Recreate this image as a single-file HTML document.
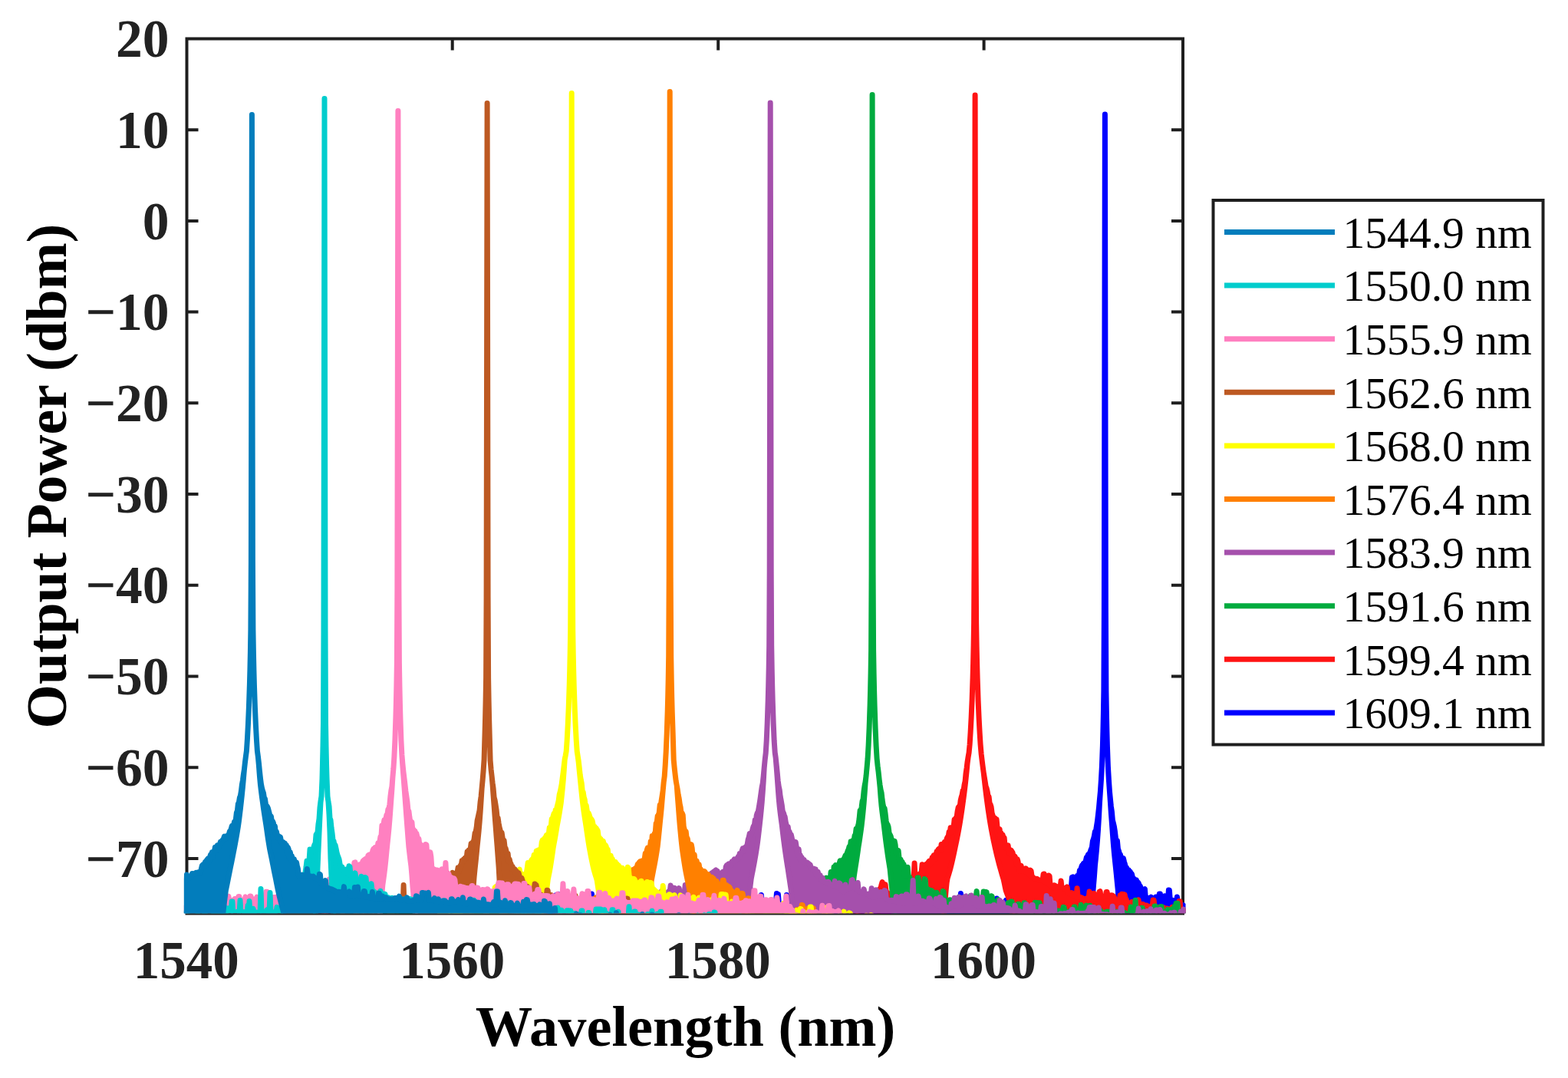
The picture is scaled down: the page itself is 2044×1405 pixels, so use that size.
<!DOCTYPE html>
<html><head><meta charset="utf-8"><title>Output Power vs Wavelength</title>
<style>html,body{margin:0;padding:0;background:#fff;overflow:hidden;} svg{display:block;}</style></head>
<body><svg width="2044" height="1405" viewBox="0 0 2044 1405">
<rect x="0" y="0" width="2044" height="1405" fill="#fff"/>
<defs><clipPath id="ax"><rect x="239.8" y="0" width="1305.7" height="1190.2"/></clipPath></defs>

<g stroke="#1e1e1e" stroke-width="4" fill="none" stroke-linecap="square">
<path d="M243.5 50.5H1542.0V1190.5H243.5Z"/>
<path stroke-linecap="butt" d="M243.5 169.2h15M1542.0 169.2h-15M243.5 287.9h15M1542.0 287.9h-15M243.5 406.6h15M1542.0 406.6h-15M243.5 525.3h15M1542.0 525.3h-15M243.5 644.1h15M1542.0 644.1h-15M243.5 762.8h15M1542.0 762.8h-15M243.5 881.5h15M1542.0 881.5h-15M243.5 1000.2h15M1542.0 1000.2h-15M243.5 1118.9h15M1542.0 1118.9h-15M589.7 50.5v15M589.7 1190.5v-15M936.2 50.5v15M936.2 1190.5v-15M1282.6 50.5v15M1282.6 1190.5v-15"/>
</g>
<g clip-path="url(#ax)" stroke-width="7" stroke-linejoin="round" stroke-linecap="round">
<path fill="#0000ff" stroke="#0000ff" d="M240.4 1202.5 649.4 1202.5 650.4 1197.4 651.4 1197.2 652.4 1202.2 653.4 1202 654.4 1201.8 655.4 1201.6 656.4 1201.4 657.4 1201.2 658.4 1201 659.4 1200 660.4 1199.8 661.4 1199.3 662.4 1199.1 663.4 1198.9 664.4 1198.7 665.4 1198.5 666.4 1192.6 667.4 1199 668.4 1198.8 669.4 1198.6 670.4 1198.4 671.4 1198.2 672.4 1198 673.4 1186.7 674.4 1198.6 675.4 1198.4 676.4 1198.2 677.4 1198 678.4 1195.2 679.4 1195.8 680.4 1195.6 681.4 1195.4 682.4 1195.2 683.4 1195 684.4 1187.4 685.4 1193.4 686.4 1193.2 687.4 1193 688.4 1192.8 689.4 1192.6 690.4 1193.2 691.4 1194.7 692.4 1194.5 693.4 1194.3 694.4 1194.1 695.4 1193.9 696.4 1189.6 697.4 1193.9 698.4 1193.7 699.4 1193.5 700.4 1193.2 701.4 1192.7 702.4 1190 703.4 1191 704.4 1190.5 705.4 1190 706.4 1189.4 707.4 1179.9 708.4 1179.4 709.4 1188.6 710.4 1188.1 711.4 1187.5 712.4 1187 713.4 1186.5 714.4 1186 715.4 1176.1 716.4 1184.1 717.4 1183.5 718.4 1183 719.4 1182.5 720.4 1182.7 721.4 1182.2 722.4 1168 723.4 1167.4 724.4 1166.9 725.4 1166.4 726.4 1165.9 727.4 1165.4 728.4 1175.3 729.4 1176.5 730.4 1176 731.4 1175.5 732.4 1175 733.4 1164.5 734.4 1174.8 735.4 1174.9 736.4 1169.5 737.4 1169.6 738.4 1176.8 739.4 1176.9 740.4 1177 741.4 1177.1 742.4 1177.2 743.4 1177.4 744.4 1177.5 745.4 1177.2 746.4 1175.3 747.4 1175.4 748.4 1175.5 749.4 1175.6 750.4 1175.7 751.4 1175.8 752.4 1174.7 753.4 1174.8 754.4 1176.6 755.4 1176.7 756.4 1176.8 757.4 1176.9 758.4 1177 759.4 1177.4 760.4 1178.8 761.4 1178.9 762.4 1179 763.4 1171.1 764.4 1178.3 765.4 1178.4 766.4 1178.5 767.4 1178.6 768.4 1178.7 769.4 1169.5 770.4 1179 771.4 1165 772.4 1178.2 773.4 1178.3 774.4 1178.4 775.4 1178.5 776.4 1178.6 777.4 1178.7 778.4 1178.8 779.4 1168.5 780.4 1168.6 781.4 1179.3 782.4 1179.4 783.4 1179.5 784.4 1174.5 785.4 1174.6 786.4 1179.1 787.4 1179.2 788.4 1179.3 789.4 1179.4 790.4 1171.2 791.4 1171.3 792.4 1182.4 793.4 1182.6 794.4 1182.7 795.4 1182.8 796.4 1179.9 797.4 1180 798.4 1182.8 799.4 1182.9 800.4 1183 801.4 1182.9 802.4 1175 803.4 1180.2 804.4 1180.2 805.4 1180.2 806.4 1182.7 807.4 1181 808.4 1181 809.4 1181 810.4 1180.9 811.4 1180.9 812.4 1180.9 813.4 1180 814.4 1182.1 815.4 1182.1 816.4 1182 817.4 1182 818.4 1182 819.4 1182 820.4 1181.9 821.4 1181.4 822.4 1181.3 823.4 1182.4 824.4 1182.4 825.4 1182.4 826.4 1182.3 827.4 1182.3 828.4 1182.3 829.4 1171.9 830.4 1179.8 831.4 1179.7 832.4 1179.7 833.4 1179.7 834.4 1181.7 835.4 1181.7 836.4 1180.6 837.4 1180.5 838.4 1180.5 839.4 1181 840.4 1179.3 841.4 1179.3 842.4 1179.3 843.4 1179.3 844.4 1179.2 845.4 1179.8 846.4 1182.2 847.4 1182.1 848.4 1182.1 849.4 1182.1 850.4 1180.7 851.4 1180.7 852.4 1181.3 853.4 1181.3 854.4 1181.3 855.4 1181.2 856.4 1181.2 857.4 1181.2 858.4 1181.2 859.4 1180.1 860.4 1180 861.4 1180.4 862.4 1180.4 863.4 1180.3 864.4 1169.6 865.4 1169.5 866.4 1179.4 867.4 1179.4 868.4 1179.4 869.4 1179.3 870.4 1173.3 871.4 1173.3 872.4 1181.5 873.4 1181.5 874.4 1181.5 875.4 1181.5 876.4 1181.4 877.4 1181.4 878.4 1181.4 879.4 1177.5 880.4 1177.5 881.4 1178.4 882.4 1178.4 883.4 1178.4 884.4 1178.3 885.4 1178.3 886.4 1176.4 887.4 1176.4 888.4 1179.7 889.4 1179.7 890.4 1179.6 891.4 1179 892.4 1179 893.4 1181.2 894.4 1181.1 895.4 1181.1 896.4 1181.1 897.4 1176 898.4 1176 899.4 1181.1 900.4 1181.1 901.4 1181 902.4 1175 903.4 1178.4 904.4 1178.4 905.4 1178.4 906.4 1178.3 907.4 1178.3 908.4 1178.3 909.4 1178.3 910.4 1171 911.4 1179.8 912.4 1179.8 913.4 1179.7 914.4 1179.7 915.4 1179.7 916.4 1179.7 917.4 1171.6 918.4 1171.5 919.4 1180.4 920.4 1180.4 921.4 1180.4 922.4 1176.5 923.4 1178.7 924.4 1178.7 925.4 1178.7 926.4 1178.7 927.4 1178.7 928.4 1179.6 929.4 1179.4 930.4 1179.4 931.4 1179.4 932.4 1179.3 933.4 1179.3 934.4 1168 935.4 1178.1 936.4 1178.1 937.4 1178.1 938.4 1178.1 939.4 1178 940.4 1178 941.4 1173.3 942.4 1170 943.4 1169.9 944.4 1169.9 945.4 1169.9 946.4 1169.9 947.4 1169.8 948.4 1167.3 949.4 1177.5 950.4 1177.5 951.4 1177.4 952.4 1177.4 953.4 1177.4 954.4 1177.4 955.4 1177.3 956.4 1172.3 957.4 1178.2 958.4 1178.2 959.4 1178.2 960.4 1178.2 961.4 1178.5 962.4 1178.4 963.4 1176.6 964.4 1176.6 965.4 1176.6 966.4 1168.5 967.4 1177.1 968.4 1177.1 969.4 1177.1 970.4 1177 971.4 1177 972.4 1177 973.4 1170.5 974.4 1170.5 975.4 1178.3 976.4 1178.3 977.4 1178.2 978.4 1178.2 979.4 1160.5 980.4 1173.1 981.4 1161.5 982.4 1179.1 983.4 1179.1 984.4 1179.1 985.4 1173.7 986.4 1173.7 987.4 1176.9 988.4 1176.9 989.4 1176.9 990.4 1176.9 991.4 1176.8 992.4 1166.5 993.4 1176.8 994.4 1176.7 995.4 1176.7 996.4 1176.7 997.4 1174.5 998.4 1174.5 999.4 1178.1 1000.4 1178 1001.4 1178 1002.4 1178 1003.4 1178 1004.4 1177.9 1005.4 1177.9 1006.4 1177.5 1007.4 1177.5 1008.4 1177.8 1009.4 1177.8 1010.4 1177.8 1011.4 1177.8 1012.4 1164.5 1013.4 1171.4 1014.4 1165.5 1015.4 1178.2 1016.4 1178.3 1017.4 1178.4 1018.4 1178.5 1019.4 1178.6 1020.4 1179.5 1021.4 1178.1 1022.4 1178.2 1023.4 1178.3 1024.4 1178.4 1025.4 1166.5 1026.4 1178.7 1027.4 1177.7 1028.4 1178 1029.4 1178.2 1030.4 1178.3 1031.4 1178.4 1032.4 1178.5 1033.4 1178.6 1034.4 1178.7 1035.4 1172.2 1036.4 1180.2 1037.4 1180.3 1038.4 1180.4 1039.4 1180.5 1040.4 1180.6 1041.4 1180.8 1042.4 1175.7 1043.4 1175.9 1044.4 1180.8 1045.4 1180.9 1046.4 1181 1047.4 1181.1 1048.4 1181.2 1049.4 1181.3 1050.4 1181.5 1051.4 1176.3 1052.4 1181.2 1053.4 1181.3 1054.4 1181.4 1055.4 1171.9 1056.4 1182.3 1057.4 1182.4 1058.4 1182.5 1059.4 1182.6 1060.4 1182.7 1061.4 1182.9 1062.4 1183 1063.4 1174.5 1064.4 1174.6 1065.4 1181.8 1066.4 1181.9 1067.4 1182 1068.4 1182.1 1069.4 1182.2 1070.4 1182.3 1071.4 1182.5 1072.4 1183.5 1073.4 1184.3 1074.4 1184.5 1075.4 1184.6 1076.4 1185.4 1077.4 1185.2 1078.4 1185.4 1079.4 1185.5 1080.4 1177.2 1081.4 1177.3 1082.4 1184.5 1083.4 1184.6 1084.4 1184.7 1085.4 1184.8 1086.4 1171 1087.4 1183.9 1088.4 1184 1089.4 1184.2 1090.4 1180.4 1091.4 1187 1092.4 1187.1 1093.4 1187.2 1094.4 1187.4 1095.4 1184.3 1096.4 1185.4 1097.4 1185.5 1098.4 1185.6 1099.4 1185.7 1100.4 1182.4 1101.4 1185.6 1102.4 1185.6 1103.4 1185.6 1104.4 1185.6 1105.4 1185.7 1106.4 1185.7 1107.4 1177.6 1108.4 1177.6 1109.4 1185.9 1110.4 1185.9 1111.4 1185.9 1112.4 1185 1113.4 1185 1114.4 1186.2 1115.4 1186.3 1116.4 1186.3 1117.4 1186.3 1118.4 1186.3 1119.4 1179.1 1120.4 1179.2 1121.4 1186.9 1122.4 1186.9 1123.4 1186.9 1124.4 1186.9 1125.4 1186.9 1126.4 1187 1127.4 1181.4 1128.4 1188.3 1129.4 1188.3 1130.4 1188.3 1131.4 1182.7 1132.4 1186.2 1133.4 1186.2 1134.4 1186.2 1135.4 1170 1136.4 1170 1137.4 1187.7 1138.4 1187.8 1139.4 1187.8 1140.4 1187.8 1141.4 1187.8 1142.4 1180.3 1143.4 1186.2 1144.4 1186.3 1145.4 1186.3 1146.4 1186.3 1147.4 1186.3 1148.4 1186.5 1149.4 1186.6 1150.4 1188.1 1151.4 1188.1 1152.4 1188.2 1153.4 1188.2 1154.4 1178.7 1155.4 1189.6 1156.4 1189.6 1157.4 1189.6 1158.4 1189.7 1159.4 1188.2 1160.4 1188.2 1161.4 1187 1162.4 1187 1163.4 1187 1164.4 1187.1 1165.4 1186.8 1166.4 1188.9 1167.4 1188.9 1168.4 1188.9 1169.4 1188.9 1170.4 1189 1171.4 1189 1172.4 1189 1173.4 1179.5 1174.4 1179.5 1175.4 1187 1176.4 1187 1177.4 1187 1178.4 1189.7 1179.4 1189.7 1180.4 1189.9 1181.4 1190 1182.4 1190 1183.4 1190 1184.4 1190 1185.4 1190 1186.4 1190.1 1187.4 1182.3 1188.4 1182.3 1189.4 1189.9 1190.4 1189.9 1191.4 1189.9 1192.4 1189.9 1193.4 1189.9 1194.4 1190 1195.4 1190 1196.4 1189 1197.4 1189 1198.4 1189.4 1199.4 1189.4 1200.4 1189.4 1201.4 1186.4 1202.4 1186.4 1203.4 1188.1 1204.4 1188 1205.4 1188 1206.4 1187.6 1207.4 1189.3 1208.4 1189.2 1209.4 1189.2 1210.4 1181 1211.4 1188.5 1212.4 1188.4 1213.4 1188.4 1214.4 1188.3 1215.4 1188.2 1216.4 1188.2 1217.4 1188.1 1218.4 1187.6 1219.4 1188 1220.4 1188 1221.4 1187.9 1222.4 1187.7 1223.4 1187.6 1224.4 1187.6 1225.4 1187.5 1226.4 1187.4 1227.4 1187.4 1228.4 1187.3 1229.4 1179.8 1230.4 1185.4 1231.4 1185.3 1232.4 1185.3 1233.4 1185.2 1234.4 1185.7 1235.4 1187.4 1236.4 1187.3 1237.4 1187.2 1238.4 1181.4 1239.4 1186.8 1240.4 1186.7 1241.4 1186.7 1242.4 1186.6 1243.4 1186.5 1244.4 1186.4 1245.4 1186.4 1246.4 1187 1247.4 1187.1 1248.4 1187 1249.4 1187 1250.4 1186.9 1251.4 1186.8 1252.4 1164.5 1253.4 1177.6 1254.4 1185.1 1255.4 1185.1 1256.4 1185 1257.4 1184.9 1258.4 1184.8 1259.4 1184.8 1260.4 1183.8 1261.4 1183.7 1262.4 1184.1 1263.4 1184 1264.4 1184 1265.4 1183.9 1266.4 1183.8 1267.4 1183.7 1268.4 1184.1 1269.4 1184.1 1270.4 1185.3 1271.4 1185.3 1272.4 1185.2 1273.4 1185.1 1274.4 1185.1 1275.4 1185 1276.4 1184.9 1277.4 1182.1 1278.4 1183.8 1279.4 1183.8 1280.4 1183.7 1281.4 1183.6 1282.4 1183.6 1283.4 1183.5 1284.4 1183.4 1285.4 1178 1286.4 1178 1287.4 1183.2 1288.4 1183.1 1289.4 1183.1 1290.4 1183 1291.4 1182.9 1292.4 1180.5 1293.4 1180.4 1294.4 1183.4 1295.4 1183.3 1296.4 1183.3 1297.4 1183.2 1298.4 1183.1 1299.4 1171.1 1300.4 1183.3 1301.4 1183.2 1302.4 1183.1 1303.4 1175.5 1304.4 1180.5 1305.4 1180.5 1306.4 1180.4 1307.4 1180.3 1308.4 1180.2 1309.4 1180.1 1310.4 1178.1 1311.4 1173.2 1312.4 1173.1 1313.4 1173 1314.4 1172.9 1315.4 1172.8 1316.4 1172.7 1317.4 1172.6 1318.4 1176.4 1319.4 1176.3 1320.4 1181.4 1321.4 1181.3 1322.4 1181.2 1323.4 1181.1 1324.4 1181 1325.4 1179.8 1326.4 1180 1327.4 1179.9 1328.4 1179.8 1329.4 1178 1330.4 1177.9 1331.4 1179 1332.4 1178.9 1333.4 1178.8 1334.4 1178.7 1335.4 1178.6 1336.4 1178.5 1337.4 1179.5 1338.4 1179.6 1339.4 1179.5 1340.4 1179.4 1341.4 1179.3 1342.4 1167.6 1343.4 1167.5 1344.4 1178.8 1345.4 1178.7 1346.4 1178.6 1347.4 1178.5 1348.4 1167 1349.4 1175.3 1350.4 1175.2 1351.4 1175.1 1352.4 1175 1353.4 1174.9 1354.4 1177.8 1355.4 1177.7 1356.4 1175.8 1357.4 1175.7 1358.4 1175.6 1359.4 1175.5 1360.4 1175.4 1361.4 1165.3 1362.4 1175.8 1363.4 1175.7 1364.4 1175.6 1365.4 1175.5 1366.4 1175.4 1367.4 1175.3 1368.4 1175.2 1369.4 1176.5 1370.4 1175.6 1371.4 1174.9 1372.4 1174.1 1373.4 1173.4 1374.4 1159.8 1375.4 1159.1 1376.4 1171.6 1377.4 1170.9 1378.4 1170.1 1379.4 1169.4 1380.4 1168.6 1381.4 1167.9 1382.4 1167.1 1383.4 1154.1 1384.4 1163.6 1385.4 1162.9 1386.4 1162.1 1387.4 1161.4 1388.4 1160.6 1389.4 1157.3 1390.4 1156.6 1391.4 1160.2 1392.4 1159.4 1393.4 1158.7 1394.4 1157.9 1395.4 1157.2 1396.4 1156.4 1397.4 1143.3 1398.4 1142.9 1399.4 1153.4 1400.4 1153.5 1401.4 1153.6 1402.4 1143.2 1403.4 1145.3 1404.4 1141.2 1405.4 1144.2 1406.4 1141.1 1407.4 1134.6 1408.4 1138.4 1409.4 1131.1 1410.4 1128.1 1411.4 1128.6 1412.4 1125.3 1413.4 1124.6 1414.4 1126.6 1415.4 1121.8 1416.4 1117.2 1417.4 1118.1 1418.4 1113.7 1419.4 1113.5 1420.4 1112 1421.4 1109.5 1422.4 1106.6 1423.4 1104.4 1424.4 1096.2 1425.4 1093.5 1426.4 1089.5 1427.4 1083.7 1428.4 1083.5 1429.4 1077.1 1430.4 1070.8 1431.4 1062.3 1432.4 1053.5 1433.4 1042.4 1434.4 1031.8 1435.4 1017.1 1436.4 999.2 1437.4 972.1 1437.9 953.3 1438.4 930.3 1438.9 900.6 1439.4 794.4 1439.9 471.8 1440.4 149 1440.9 471.8 1441.4 794.4 1441.9 900.6 1442.4 930.3 1442.9 953.3 1443.4 972.1 1444.4 999.1 1445.4 1016.6 1446.4 1031.1 1447.4 1041.3 1448.4 1051.2 1449.4 1058 1450.4 1069.2 1451.4 1073 1452.4 1077.4 1453.4 1083.6 1454.4 1092.2 1455.4 1097 1456.4 1095.6 1457.4 1106 1458.4 1109 1459.4 1112.8 1460.4 1113.8 1461.4 1117.2 1462.4 1118.8 1463.4 1120 1464.4 1118.8 1465.4 1122.9 1466.4 1126.2 1467.4 1131.2 1468.4 1130.6 1469.4 1133.6 1470.4 1137.5 1471.4 1133.8 1472.4 1139.8 1473.4 1136.2 1474.4 1138.9 1475.4 1139 1476.4 1143.3 1477.4 1146.5 1478.4 1145.4 1479.4 1150 1480.4 1151 1481.4 1146.8 1482.4 1152.2 1483.4 1150 1484.4 1151.3 1485.4 1156.2 1486.4 1155 1487.4 1158.1 1488.4 1158.4 1489.4 1159.8 1490.4 1160.8 1491.4 1159.5 1492.4 1158.8 1493.4 1170.9 1494.4 1171.6 1495.4 1169.9 1496.4 1170.4 1497.4 1170.5 1498.4 1170.5 1499.4 1170.6 1500.4 1169.2 1501.4 1172.5 1502.4 1172.5 1503.4 1172.6 1504.4 1172.7 1505.4 1172.7 1506.4 1169 1507.4 1169.1 1508.4 1174 1509.4 1174.1 1510.4 1174.2 1511.4 1165 1512.4 1165.1 1513.4 1174.2 1514.4 1174.3 1515.4 1174.4 1516.4 1174.5 1517.4 1174.7 1518.4 1167.8 1519.4 1167.9 1520.4 1172.7 1521.4 1172.8 1522.4 1172.9 1523.4 1160 1524.4 1160.2 1525.4 1174.8 1526.4 1175 1527.4 1175.4 1528.4 1175.7 1529.4 1173.5 1530.4 1178.1 1531.4 1178.4 1532.4 1178.8 1533.4 1179.2 1534.4 1169.1 1535.4 1177.5 1536.4 1177.9 1537.4 1178.3 1538.4 1178.6 1539.4 1179 1540.4 1179.4 1541.4 1179.7 1542.4 1179.8 1543.4 1180.9 1544.4 1181.2 1544.4 1202.5 1459.4 1202.5 1458.4 1180.5 1457.4 1160.8 1456.4 1150.8 1455.4 1140.7 1454.4 1130.6 1453.4 1121.4 1452.4 1111.4 1451.4 1100.2 1450.4 1087 1449.4 1073 1448.4 1060.1 1447.4 1045.3 1446.4 1031.1 1445.4 1016.6 1444.4 999.1 1443.4 972.1 1442.9 953.3 1442.4 930.3 1441.9 900.6 1441.4 794.4 1440.9 471.8 1440.4 149 1439.9 471.8 1439.4 794.4 1438.9 900.6 1438.4 930.3 1437.9 953.3 1437.4 972.1 1436.4 999.2 1435.4 1017.1 1434.4 1031.8 1433.4 1047 1432.4 1066.5 1431.4 1082.8 1430.4 1096.4 1429.4 1108.4 1428.4 1119 1427.4 1128.7 1426.4 1143.1 1425.4 1154.9 1424.4 1167.2 1423.4 1182.6 1422.4 1202.5 240.4 1202.5Z"/>
<path fill="#ff1414" stroke="#ff1414" d="M241.1 1202.5 1099.1 1202.5 1100.1 1200.5 1101.1 1190.3 1102.1 1199.6 1103.1 1198.8 1104.1 1198.1 1105.1 1197.3 1106.1 1191.4 1107.1 1195.2 1108.1 1194.4 1109.1 1193.6 1110.1 1192.9 1111.1 1192.1 1112.1 1194.2 1113.1 1193.4 1114.1 1190.7 1115.1 1190 1116.1 1189.2 1117.1 1188.4 1118.1 1187.7 1119.1 1188 1120.1 1187.3 1121.1 1186.4 1122.1 1185.6 1123.1 1184.9 1124.1 1184.1 1125.1 1183.3 1126.1 1182.6 1127.1 1181.8 1128.1 1178.9 1129.1 1179.7 1130.1 1178.9 1131.1 1177.7 1132.1 1176.5 1133.1 1165.8 1134.1 1174.7 1135.1 1173.5 1136.1 1172.3 1137.1 1171.1 1138.1 1169.9 1139.1 1168.7 1140.1 1167.5 1141.1 1166.9 1142.1 1165.9 1143.1 1162.2 1144.1 1161.2 1145.1 1160.2 1146.1 1159.2 1147.1 1158.2 1148.1 1157.2 1149.1 1152.9 1150.1 1149.5 1151.1 1157.9 1152.1 1158.9 1153.1 1159.9 1154.1 1152.8 1155.1 1161.8 1156.1 1162.8 1157.1 1163.8 1158.1 1164.8 1159.1 1165.8 1160.1 1166.6 1161.1 1166 1162.1 1164.3 1163.1 1163.6 1164.1 1163.6 1165.1 1163 1166.1 1162.3 1167.1 1161.6 1168.1 1161 1169.1 1157.8 1170.1 1157.1 1171.1 1159.9 1172.1 1159.2 1173.1 1158.6 1174.1 1157.9 1175.1 1157.2 1176.1 1156.4 1177.1 1155.6 1178.1 1147.2 1179.1 1146.4 1180.1 1152.3 1181.1 1151.5 1182.1 1150.7 1183.1 1149.9 1184.1 1149.1 1185.1 1145.6 1186.1 1149.1 1187.1 1148.3 1188.1 1147.5 1189.1 1146.7 1190.1 1145.9 1191.1 1145.3 1192.1 1124.9 1193.1 1144.1 1194.1 1143.5 1195.1 1142.9 1196.1 1141.5 1197.1 1140 1198.1 1139.4 1199.1 1138.8 1200.1 1138.1 1201.1 1137.5 1202.1 1126.8 1203.1 1135.5 1204.1 1135.5 1205.1 1130.6 1206.1 1128.2 1207.1 1126.3 1208.1 1126 1209.1 1126.1 1210.1 1123.7 1211.1 1122.5 1212.1 1127.1 1213.1 1126 1214.1 1123.2 1215.1 1117.6 1216.1 1117.2 1217.1 1115 1218.1 1119.6 1219.1 1118.9 1220.1 1113.9 1221.1 1109.5 1222.1 1110.5 1223.1 1107 1224.1 1106.1 1225.1 1107.8 1226.1 1108.1 1227.1 1100.4 1228.1 1101.1 1229.1 1100.6 1230.1 1100.3 1231.1 1097.7 1232.1 1100.4 1233.1 1098.8 1234.1 1093.2 1235.1 1091 1236.1 1090.9 1237.1 1084.3 1238.1 1086.6 1239.1 1078.7 1240.1 1084.8 1241.1 1079.5 1242.1 1080.9 1243.1 1078 1244.1 1068.2 1245.1 1068.8 1246.1 1065.8 1247.1 1065.2 1248.1 1057.5 1249.1 1052.6 1250.1 1050.9 1251.1 1052.4 1252.1 1043.6 1253.1 1039.3 1254.1 1036 1255.1 1030.3 1256.1 1029.7 1257.1 1022.8 1258.1 1018.3 1259.1 1007.7 1260.1 1000.9 1261.1 992.8 1262.1 986.5 1263.1 980.9 1264.1 970.5 1265.1 954.6 1266.1 935.8 1267.1 912.8 1268.1 883.1 1268.6 864.3 1269.1 841.3 1269.6 811.6 1270.1 720.2 1270.6 422.2 1271.1 124.1 1271.6 422.2 1272.1 720.2 1272.6 811.6 1273.1 841.3 1273.6 864.3 1274.1 883.1 1275.1 912.8 1276.1 935.8 1277.1 954.6 1278.1 970.5 1279.1 982.3 1280.1 990.8 1281.1 998.7 1282.1 1006.2 1283.1 1012.4 1284.1 1018.4 1285.1 1024.8 1286.1 1027.3 1287.1 1031.5 1288.1 1038.1 1289.1 1038.3 1290.1 1047.1 1291.1 1048.5 1292.1 1051.8 1293.1 1059.6 1294.1 1062.9 1295.1 1065.3 1296.1 1068.8 1297.1 1066.2 1298.1 1068.1 1299.1 1068.1 1300.1 1078.7 1301.1 1080.6 1302.1 1082.3 1303.1 1080.7 1304.1 1091 1305.1 1085.7 1306.1 1092.3 1307.1 1087.9 1308.1 1093.2 1309.1 1091.6 1310.1 1102.7 1311.1 1105 1312.1 1102.6 1313.1 1104.5 1314.1 1101.8 1315.1 1109.3 1316.1 1112.6 1317.1 1109.1 1318.1 1108.3 1319.1 1109.8 1320.1 1111.2 1321.1 1117.9 1322.1 1115.5 1323.1 1116.3 1324.1 1118.9 1325.1 1126.6 1326.1 1119.6 1327.1 1122.9 1328.1 1131.5 1329.1 1134.9 1330.1 1134.9 1331.1 1128.2 1332.1 1133.9 1333.1 1134.7 1334.1 1134.6 1335.1 1134.7 1336.1 1135.6 1337.1 1131.8 1338.1 1132.8 1339.1 1137.3 1340.1 1138.2 1341.1 1139.1 1342.1 1140.1 1343.1 1134.1 1344.1 1135 1345.1 1142 1346.1 1142.9 1347.1 1143.8 1348.1 1144.8 1349.1 1145.6 1350.1 1145.8 1351.1 1145.2 1352.1 1145.4 1353.1 1146.5 1354.1 1146.7 1355.1 1146.9 1356.1 1147 1357.1 1147.2 1358.1 1147.4 1359.1 1147.5 1360.1 1139.2 1361.1 1139 1362.1 1149.1 1363.1 1149.6 1364.1 1150.2 1365.1 1150.8 1366.1 1151.4 1367.1 1141.1 1368.1 1141.7 1369.1 1154.4 1370.1 1155 1371.1 1155.6 1372.1 1156.2 1373.1 1156.7 1374.1 1153.8 1375.1 1153.9 1376.1 1155.2 1377.1 1155.4 1378.1 1155.6 1379.1 1155.7 1380.1 1155.9 1381.1 1156 1382.1 1156.2 1383.1 1148 1384.1 1156.9 1385.1 1157.1 1386.1 1157.3 1387.1 1157.9 1388.1 1158.6 1389.1 1159.3 1390.1 1159.9 1391.1 1155.8 1392.1 1163.2 1393.1 1163.9 1394.1 1164.5 1395.1 1165.2 1396.1 1165.9 1397.1 1163.6 1398.1 1164.3 1399.1 1167.1 1400.1 1167.5 1401.1 1167.9 1402.1 1168.3 1403.1 1168.7 1404.1 1157.8 1405.1 1168.1 1406.1 1168.5 1407.1 1168.9 1408.1 1169.3 1409.1 1169.6 1410.1 1170 1411.1 1170.4 1412.1 1171.6 1413.1 1173.1 1414.1 1173.5 1415.1 1173.9 1416.1 1171 1417.1 1172.4 1418.1 1172.1 1419.1 1171.9 1420.1 1162 1421.1 1165.7 1422.1 1165.4 1423.1 1165.1 1424.1 1164.8 1425.1 1164.6 1426.1 1164.3 1427.1 1167.4 1428.1 1171.1 1429.1 1170.8 1430.1 1170.6 1431.1 1170.3 1432.1 1170 1433.1 1162 1434.1 1161.7 1435.1 1168.9 1436.1 1168.8 1437.1 1168.7 1438.1 1168.7 1439.1 1168.6 1440.1 1168.5 1441.1 1168.5 1442.1 1162.6 1443.1 1162.5 1444.1 1167.2 1445.1 1167.1 1446.1 1167 1447.1 1167 1448.1 1166.9 1449.1 1166.8 1450.1 1166.9 1451.1 1167.7 1452.1 1168.7 1453.1 1171.5 1454.1 1172.5 1455.1 1173.5 1456.1 1174.5 1457.1 1175.5 1458.1 1176.5 1459.1 1177.5 1460.1 1167.1 1461.1 1167.2 1462.1 1165.3 1463.1 1165.5 1464.1 1165.6 1465.1 1165.7 1466.1 1165.9 1467.1 1171.7 1468.1 1171.9 1469.1 1176.7 1470.1 1176.8 1471.1 1176.9 1472.1 1177 1473.1 1177.2 1474.1 1177.3 1475.1 1175.5 1476.1 1175.7 1477.1 1180.2 1478.1 1180.4 1479.1 1180.5 1480.1 1180.6 1481.1 1180.8 1482.1 1180.9 1483.1 1181 1484.1 1172.8 1485.1 1179.1 1486.1 1179.2 1487.1 1179.3 1488.1 1179.4 1489.1 1178.4 1490.1 1178.5 1491.1 1179.7 1492.1 1179.8 1493.1 1179.9 1494.1 1180 1495.1 1180.2 1496.1 1181.5 1497.1 1181.6 1498.1 1181.4 1499.1 1181.5 1500.1 1181.6 1501.1 1181.7 1502.1 1181.9 1503.1 1173.1 1504.1 1173.2 1505.1 1183.8 1506.1 1184 1507.1 1184.1 1508.1 1184.2 1509.1 1183.1 1510.1 1183.2 1511.1 1182.3 1512.1 1182.4 1513.1 1182.5 1514.1 1182.6 1515.1 1182.7 1516.1 1182.8 1517.1 1182.9 1518.1 1183.8 1519.1 1183.9 1520.1 1184 1521.1 1184.1 1522.1 1184.3 1523.1 1184.6 1524.1 1184.8 1525.1 1184.9 1526.1 1185 1527.1 1185.1 1528.1 1182.3 1529.1 1182.4 1530.1 1183.7 1531.1 1183.8 1532.1 1183.9 1533.1 1184 1534.1 1184.1 1535.1 1184.2 1536.1 1184.3 1537.1 1174.6 1538.1 1174.7 1539.1 1186.6 1540.1 1186.7 1541.1 1186.8 1542.1 1186.9 1543.1 1187 1544.1 1187.1 1544.1 1202.5 1320.1 1202.5 1319.1 1187.3 1318.1 1181.8 1317.1 1176.1 1316.1 1173.1 1315.1 1170.7 1314.1 1168.3 1313.1 1165.7 1312.1 1163.2 1311.1 1160.3 1310.1 1155.5 1309.1 1150.6 1308.1 1146 1307.1 1142.7 1306.1 1139.4 1305.1 1135.9 1304.1 1132.4 1303.1 1128.8 1302.1 1125 1301.1 1121.2 1300.1 1117.2 1299.1 1113.1 1298.1 1108.8 1297.1 1104.4 1296.1 1099.8 1295.1 1095.2 1294.1 1090.3 1293.1 1085.2 1292.1 1079.9 1291.1 1074.2 1290.1 1068.1 1289.1 1061.7 1288.1 1054.9 1287.1 1047.7 1286.1 1040.3 1285.1 1032.4 1284.1 1023.9 1283.1 1015 1282.1 1006.2 1281.1 998.7 1280.1 990.8 1279.1 982.3 1278.1 970.5 1277.1 954.6 1276.1 935.8 1275.1 912.8 1274.1 883.1 1273.6 864.3 1273.1 841.3 1272.6 811.6 1272.1 720.2 1271.6 422.2 1271.1 124.1 1270.6 422.2 1270.1 720.2 1269.6 811.6 1269.1 841.3 1268.6 864.3 1268.1 883.1 1267.1 912.8 1266.1 935.8 1265.1 954.6 1264.1 970.5 1263.1 981 1262.1 986.8 1261.1 994.5 1260.1 1005.2 1259.1 1014.8 1258.1 1023.8 1257.1 1032.1 1256.1 1039.8 1255.1 1047 1254.1 1054.2 1253.1 1061.1 1252.1 1067.5 1251.1 1073.6 1250.1 1079.4 1249.1 1084.8 1248.1 1090 1247.1 1095 1246.1 1099.8 1245.1 1104.4 1244.1 1109.3 1243.1 1114 1242.1 1118.5 1241.1 1122.9 1240.1 1127.1 1239.1 1131.2 1238.1 1134.8 1237.1 1138.2 1236.1 1141.5 1235.1 1144.7 1234.1 1150.7 1233.1 1160.8 1232.1 1172.7 1231.1 1184.3 1230.1 1202.5 241.1 1202.5Z"/>
<path fill="#00ab3f" stroke="#00ab3f" d="M241.1 1202.5 952.1 1202.5 953.1 1198.2 954.1 1202.5 960.1 1202.5 961.1 1197 962.1 1202.5 968.1 1202.5 969.1 1202.2 970.1 1201.9 971.1 1201.7 972.1 1197.3 973.1 1197.1 974.1 1202.5 976.1 1202.5 977.1 1202.3 978.1 1202.1 979.1 1201.8 980.1 1189.8 981.1 1200.7 982.1 1200.5 983.1 1200.3 984.1 1200.3 985.1 1200.2 986.1 1200 987.1 1199.8 988.1 1199.6 989.1 1199.3 990.1 1197.6 991.1 1197.4 992.1 1199 993.1 1198.8 994.1 1198.5 995.1 1198.3 996.1 1198.1 997.1 1197.9 998.1 1189.8 999.1 1189.5 1000.1 1194.2 1001.1 1194 1002.1 1193.8 1003.1 1193.6 1004.1 1193.4 1005.1 1193.1 1006.1 1192.9 1007.1 1191.9 1008.1 1194.4 1009.1 1194.2 1010.1 1194 1011.1 1193.7 1012.1 1193.5 1013.1 1193.3 1014.1 1193.1 1015.1 1193.9 1016.1 1193.7 1017.1 1183.7 1018.1 1183.5 1019.1 1183.3 1020.1 1183.1 1021.1 1182.9 1022.1 1182.6 1023.1 1182.9 1024.1 1188.8 1025.1 1188.6 1026.1 1188.4 1027.1 1188.2 1028.1 1188 1029.1 1189.4 1030.1 1189.2 1031.1 1188.7 1032.1 1188.5 1033.1 1188.3 1034.1 1188.1 1035.1 1186.3 1036.1 1187.3 1037.1 1187.1 1038.1 1186.9 1039.1 1186.7 1040.1 1186.4 1041.1 1185.6 1042.1 1181.3 1043.1 1183.6 1044.1 1182.8 1045.1 1182.1 1046.1 1181.3 1047.1 1181.3 1048.1 1180.6 1049.1 1179.5 1050.1 1178.8 1051.1 1178 1052.1 1177.3 1053.1 1176.5 1054.1 1175.8 1055.1 1175 1056.1 1175.9 1057.1 1173.6 1058.1 1172.8 1059.1 1172.1 1060.1 1172.4 1061.1 1171.4 1062.1 1170.8 1063.1 1169.8 1064.1 1168.8 1065.1 1159 1066.1 1158 1067.1 1165.2 1068.1 1164.2 1069.1 1163.2 1070.1 1162.2 1071.1 1149.5 1072.1 1148.5 1073.1 1159.2 1074.1 1158.2 1075.1 1157.2 1076.1 1145.5 1077.1 1144.1 1078.1 1153 1079.1 1151.5 1080.1 1150.1 1081.1 1148.7 1082.1 1147.4 1083.1 1136.5 1084.1 1136.4 1085.1 1146.9 1086.1 1144.4 1087.1 1130.1 1088.1 1130.9 1089.1 1127.7 1090.1 1129.6 1091.1 1128 1092.1 1127.9 1093.1 1127.4 1094.1 1125.4 1095.1 1121.8 1096.1 1125.8 1097.1 1121.5 1098.1 1122.9 1099.1 1120.7 1100.1 1119.3 1101.1 1117.3 1102.1 1114.8 1103.1 1116.6 1104.1 1112 1105.1 1109 1106.1 1106.9 1107.1 1103.2 1108.1 1106 1109.1 1096.8 1110.1 1097.9 1111.1 1095.9 1112.1 1098.2 1113.1 1096.1 1114.1 1088.9 1115.1 1088.5 1116.1 1080.2 1117.1 1084.3 1118.1 1077.4 1119.1 1074.1 1120.1 1067 1121.1 1056.6 1122.1 1058.1 1123.1 1052 1124.1 1044.2 1125.1 1041.4 1126.1 1031.1 1127.1 1024 1128.1 1019 1129.1 1011 1130.1 1000.1 1131.1 988.6 1132.1 971.8 1133.1 948.8 1134.1 919.1 1134.6 900.3 1135.1 877.3 1135.6 847.6 1136.1 747.8 1136.6 435.8 1137.1 123.5 1137.6 435.8 1138.1 747.8 1138.6 847.6 1139.1 877.3 1139.6 900.3 1140.1 919.1 1141.1 948.8 1142.1 971.8 1143.1 988.6 1144.1 998.4 1145.1 1006.1 1146.1 1015.7 1147.1 1023.2 1148.1 1029.3 1149.1 1033.3 1150.1 1042.4 1151.1 1048.8 1152.1 1052.9 1153.1 1053.5 1154.1 1060.6 1155.1 1069.5 1156.1 1075.2 1157.1 1074.7 1158.1 1077.8 1159.1 1086 1160.1 1087.8 1161.1 1089.6 1162.1 1093.8 1163.1 1094.5 1164.1 1096.7 1165.1 1096.2 1166.1 1096.2 1167.1 1101 1168.1 1111.4 1169.1 1110.7 1170.1 1110.4 1171.1 1108.5 1172.1 1118.9 1173.1 1123.2 1174.1 1120 1175.1 1125.9 1176.1 1123.2 1177.1 1128.5 1178.1 1126.4 1179.1 1141.3 1180.1 1141.2 1181.1 1141.2 1182.1 1141.1 1183.1 1130.2 1184.1 1140.6 1185.1 1142.4 1186.1 1144.3 1187.1 1146.1 1188.1 1147.9 1189.1 1149.8 1190.1 1151.4 1191.1 1149.8 1192.1 1152.1 1193.1 1152.2 1194.1 1152.4 1195.1 1152.6 1196.1 1144 1197.1 1144.1 1198.1 1153.1 1199.1 1153.2 1200.1 1153.4 1201.1 1153.5 1202.1 1153.7 1203.1 1153.9 1204.1 1154.6 1205.1 1145.6 1206.1 1146.3 1207.1 1157.1 1208.1 1157.8 1209.1 1158.5 1210.1 1159.2 1211.1 1159.9 1212.1 1160.7 1213.1 1161.4 1214.1 1160.6 1215.1 1161.3 1216.1 1162.8 1217.1 1163.6 1218.1 1164.3 1219.1 1165 1220.1 1165.7 1221.1 1163.3 1222.1 1167.9 1223.1 1168.4 1224.1 1168.9 1225.1 1169.4 1226.1 1169.9 1227.1 1170.4 1228.1 1170.9 1229.1 1161.6 1230.1 1162.1 1231.1 1172 1232.1 1172.5 1233.1 1173 1234.1 1173.2 1235.1 1173.4 1236.1 1173.6 1237.1 1173.8 1238.1 1172.8 1239.1 1173 1240.1 1173.2 1241.1 1173.5 1242.1 1173.7 1243.1 1173.9 1244.1 1175.2 1245.1 1175.7 1246.1 1175.9 1247.1 1175.7 1248.1 1175.5 1249.1 1175.4 1250.1 1169.3 1251.1 1174 1252.1 1173.8 1253.1 1173.7 1254.1 1173.5 1255.1 1173.3 1256.1 1174.5 1257.1 1174.3 1258.1 1171.3 1259.1 1171.1 1260.1 1170.9 1261.1 1170.8 1262.1 1170.6 1263.1 1170.4 1264.1 1170.3 1265.1 1167.7 1266.1 1170.6 1267.1 1170.4 1268.1 1170.3 1269.1 1170.1 1270.1 1170 1271.1 1170.1 1272.1 1170.3 1273.1 1161.5 1274.1 1170.3 1275.1 1170.4 1276.1 1170.6 1277.1 1170.8 1278.1 1170.9 1279.1 1171.1 1280.1 1171.2 1281.1 1171.8 1282.1 1162 1283.1 1162.2 1284.1 1162.4 1285.1 1162.5 1286.1 1162.7 1287.1 1171.1 1288.1 1172.8 1289.1 1172.9 1290.1 1173.3 1291.1 1173.6 1292.1 1167.7 1293.1 1168 1294.1 1174.8 1295.1 1175.1 1296.1 1175.4 1297.1 1175.7 1298.1 1176.1 1299.1 1176.4 1300.1 1176.7 1301.1 1172.5 1302.1 1178.8 1303.1 1179.1 1304.1 1179.4 1305.1 1179.7 1306.1 1180.1 1307.1 1180.4 1308.1 1178.7 1309.1 1179 1310.1 1181 1311.1 1181.4 1312.1 1181.7 1313.1 1182 1314.1 1176.7 1315.1 1183.4 1316.1 1183.5 1317.1 1183.7 1318.1 1175 1319.1 1175.1 1320.1 1182.2 1321.1 1182.3 1322.1 1182.4 1323.1 1182.6 1324.1 1182.7 1325.1 1182.9 1326.1 1183 1327.1 1178.2 1328.1 1178.3 1329.1 1184.8 1330.1 1184.9 1331.1 1185.1 1332.1 1185.2 1333.1 1185.4 1334.1 1185.5 1335.1 1176.8 1336.1 1177 1337.1 1185 1338.1 1185.1 1339.1 1185.2 1340.1 1185.4 1341.1 1185.7 1342.1 1185.8 1343.1 1187.3 1344.1 1187.4 1345.1 1187.6 1346.1 1187.7 1347.1 1187.9 1348.1 1179.3 1349.1 1176.4 1350.1 1176.6 1351.1 1176.6 1352.1 1176.6 1353.1 1176.7 1354.1 1176.7 1355.1 1176.8 1356.1 1186.2 1357.1 1188.2 1358.1 1188.3 1359.1 1188.3 1360.1 1188.3 1361.1 1188.4 1362.1 1183.3 1363.1 1189 1364.1 1189 1365.1 1189.1 1366.1 1188.7 1367.1 1188.8 1368.1 1187.5 1369.1 1187.5 1370.1 1187.6 1371.1 1187.6 1372.1 1188.1 1373.1 1188.2 1374.1 1186.8 1375.1 1186.8 1376.1 1186.9 1377.1 1186.9 1378.1 1186.9 1379.1 1186.9 1380.1 1187.2 1381.1 1187.3 1382.1 1187.3 1383.1 1187.3 1384.1 1187.4 1385.1 1187.4 1386.1 1182.3 1387.1 1182.4 1388.1 1189.5 1389.1 1189.5 1390.1 1189.5 1391.1 1189.6 1392.1 1189.6 1393.1 1189 1394.1 1187.8 1395.1 1187.8 1396.1 1187.9 1397.1 1187.9 1398.1 1188 1399.1 1188 1400.1 1182 1401.1 1182.1 1402.1 1187.9 1403.1 1187.9 1404.1 1188 1405.1 1188 1406.1 1188 1407.1 1188 1408.1 1188 1409.1 1179.3 1410.1 1189 1411.1 1189 1412.1 1189.1 1413.1 1189.1 1414.1 1189.1 1415.1 1189.1 1416.1 1180 1417.1 1187.6 1418.1 1187.6 1419.1 1187.6 1420.1 1187.6 1421.1 1180.3 1422.1 1188.6 1423.1 1188.6 1424.1 1188.6 1425.1 1188.6 1426.1 1188.6 1427.1 1188.6 1428.1 1188.7 1429.1 1188.7 1430.1 1188.9 1431.1 1188.9 1432.1 1188.9 1433.1 1188.9 1434.1 1189 1435.1 1187.1 1436.1 1190.8 1437.1 1190.8 1438.1 1190.8 1439.1 1190.8 1440.1 1190.9 1441.1 1190.9 1442.1 1188.2 1443.1 1188.2 1444.1 1188.2 1445.1 1188.2 1446.1 1188.2 1447.1 1188.3 1448.1 1188.3 1449.1 1188.3 1450.1 1187.1 1451.1 1187.1 1452.1 1188.3 1453.1 1188.3 1454.1 1188.3 1455.1 1188.3 1456.1 1188.3 1457.1 1188.4 1458.1 1190.5 1459.1 1188.9 1460.1 1188.9 1461.1 1188.9 1462.1 1189.7 1463.1 1189.7 1464.1 1189.3 1465.1 1189.3 1466.1 1189.4 1467.1 1190.7 1468.1 1190.7 1469.1 1191.2 1470.1 1191.2 1471.1 1191.2 1472.1 1191.2 1473.1 1191.3 1474.1 1181.9 1475.1 1189.5 1476.1 1189.6 1477.1 1189.6 1478.1 1189.6 1479.1 1189.6 1480.1 1173.2 1481.1 1190.6 1482.1 1190.6 1483.1 1190.6 1484.1 1190.6 1485.1 1190.6 1486.1 1190.6 1487.1 1190.7 1488.1 1183.2 1489.1 1183.2 1490.1 1189.3 1491.1 1189.3 1492.1 1189.3 1493.1 1189.3 1494.1 1189.3 1495.1 1188 1496.1 1189.3 1497.1 1189.4 1498.1 1189.4 1499.1 1189.4 1500.1 1188.2 1501.1 1188.2 1502.1 1189.2 1503.1 1189.2 1504.1 1189.2 1505.1 1180.9 1506.1 1180.9 1507.1 1191.6 1508.1 1191.6 1509.1 1191.7 1510.1 1191.7 1511.1 1191.7 1512.1 1191.7 1513.1 1181.4 1514.1 1181.4 1515.1 1189.3 1516.1 1189.3 1517.1 1189.3 1518.1 1189.3 1519.1 1189.3 1520.1 1189.3 1521.1 1189.4 1522.1 1185.4 1523.1 1191 1524.1 1191.1 1525.1 1191.1 1526.1 1191.1 1527.1 1185 1528.1 1191.5 1529.1 1191.6 1530.1 1191.6 1531.1 1181.4 1532.1 1181.5 1533.1 1177.2 1534.1 1177.2 1535.1 1177.2 1536.1 1190.6 1537.1 1190.6 1538.1 1192.2 1539.1 1192.2 1540.1 1192.2 1541.1 1192.2 1542.1 1192.2 1543.1 1192.2 1544.1 1192.3 1544.1 1202.5 1166.1 1202.5 1165.1 1184.6 1164.1 1173.5 1163.1 1162 1162.1 1152.4 1161.1 1142.6 1160.1 1132.4 1159.1 1126.3 1158.1 1119.9 1157.1 1113.2 1156.1 1106.1 1155.1 1098.7 1154.1 1090.8 1153.1 1082.5 1152.1 1074 1151.1 1066.8 1150.1 1059 1149.1 1050.6 1148.1 1039.4 1147.1 1025.8 1146.1 1015.7 1145.1 1006.1 1144.1 998.4 1143.1 988.6 1142.1 971.8 1141.1 948.8 1140.1 919.1 1139.6 900.3 1139.1 877.3 1138.6 847.6 1138.1 747.8 1137.6 435.8 1137.1 123.5 1136.6 435.8 1136.1 747.8 1135.6 847.6 1135.1 877.3 1134.6 900.3 1134.1 919.1 1133.1 948.8 1132.1 971.8 1131.1 988.6 1130.1 1000.1 1129.1 1011 1128.1 1020 1127.1 1034.2 1126.1 1047 1125.1 1057.6 1124.1 1067.3 1123.1 1076.2 1122.1 1083.6 1121.1 1090.6 1120.1 1097.1 1119.1 1103.3 1118.1 1110.4 1117.1 1117.2 1116.1 1123.8 1115.1 1130 1114.1 1136.6 1113.1 1143.3 1112.1 1152.4 1111.1 1163.7 1110.1 1174.5 1109.1 1184.9 1108.1 1202.5 241.1 1202.5Z"/>
<path fill="#a550ac" stroke="#a550ac" d="M241.2 1202.5 604.2 1202.5 605.2 1198.4 606.2 1198.3 607.2 1202.5 619.2 1202.5 620.2 1195.6 621.2 1195.4 622.2 1195.3 623.2 1195.1 624.2 1195 625.2 1194.8 626.2 1202.5 627.2 1202.5 628.2 1202.2 629.2 1202.1 630.2 1201.9 631.2 1201.8 632.2 1201.6 633.2 1190.6 634.2 1190.5 635.2 1200.3 636.2 1200.2 637.2 1200 638.2 1196 639.2 1199.6 640.2 1199.5 641.2 1199.3 642.2 1199.2 643.2 1199 644.2 1198.9 645.2 1197.8 646.2 1197.6 647.2 1199.6 648.2 1199.5 649.2 1199.3 650.2 1199.2 651.2 1199 652.2 1198.9 653.2 1198.7 654.2 1188.7 655.2 1198.9 656.2 1198.7 657.2 1198.6 658.2 1190.5 659.2 1198.8 660.2 1198.6 661.2 1198.5 662.2 1198.3 663.2 1198.2 664.2 1198.1 665.2 1196.1 666.2 1196 667.2 1195.8 668.2 1193.8 669.2 1193.6 670.2 1196.7 671.2 1196.6 672.2 1196.4 673.2 1184.9 674.2 1184.8 675.2 1197.1 676.2 1196.9 677.2 1196.8 678.2 1196.6 679.2 1196.5 680.2 1185.7 681.2 1193.8 682.2 1193.6 683.2 1193.5 684.2 1193.3 685.2 1185.5 686.2 1192.9 687.2 1192.7 688.2 1192.6 689.2 1190.7 690.2 1190.5 691.2 1192.9 692.2 1192.7 693.2 1192.6 694.2 1192.4 695.2 1192.3 696.2 1192.1 697.2 1192 698.2 1188.1 699.2 1188 700.2 1190.4 701.2 1190.2 702.2 1190.1 703.2 1190 704.2 1189.9 705.2 1192.7 706.2 1192.6 707.2 1191.7 708.2 1191.6 709.2 1191.4 710.2 1191.3 711.2 1191.2 712.2 1191 713.2 1186.1 714.2 1186 715.2 1190.1 716.2 1190 717.2 1189.8 718.2 1188.4 719.2 1188.3 720.2 1188.8 721.2 1188.7 722.2 1188.6 723.2 1179.9 724.2 1180.5 725.2 1180.3 726.2 1180.2 727.2 1179.9 728.2 1179.7 729.2 1189.6 730.2 1189.5 731.2 1189.4 732.2 1189.3 733.2 1189.1 734.2 1189 735.2 1188.8 736.2 1188.7 737.2 1186.4 738.2 1186.3 739.2 1186.2 740.2 1186 741.2 1185.9 742.2 1185.8 743.2 1185.6 744.2 1186.5 745.2 1186.3 746.2 1187.2 747.2 1187.1 748.2 1187 749.2 1186.8 750.2 1186.7 751.2 1186.6 752.2 1186.5 753.2 1183.2 754.2 1183.1 755.2 1185 756.2 1184.8 757.2 1184.7 758.2 1184.6 759.2 1184.4 760.2 1184.3 761.2 1184.2 762.2 1174.2 763.2 1174 764.2 1185.1 765.2 1185 766.2 1184.9 767.2 1184.8 768.2 1184.6 769.2 1175.2 770.2 1182.5 771.2 1182.3 772.2 1182.2 773.2 1182.1 774.2 1181.9 775.2 1181.8 776.2 1181.7 777.2 1176.7 778.2 1176.5 779.2 1183.1 780.2 1183 781.2 1182.9 782.2 1182.7 783.2 1182.6 784.2 1182.5 785.2 1173 786.2 1172.8 787.2 1181.3 788.2 1181.2 789.2 1181.1 790.2 1181 791.2 1174.5 792.2 1174.3 793.2 1179.8 794.2 1179.7 795.2 1179.6 796.2 1176 797.2 1175.9 798.2 1179.8 799.2 1179.6 800.2 1179.5 801.2 1179.3 802.2 1179.1 803.2 1178.9 804.2 1168.3 805.2 1176.8 806.2 1176.6 807.2 1176.4 808.2 1175.3 809.2 1175.1 810.2 1177.7 811.2 1177.5 812.2 1177.3 813.2 1177.1 814.2 1173.2 815.2 1175.2 816.2 1175 817.2 1174.8 818.2 1174.6 819.2 1174.4 820.2 1169.6 821.2 1169.4 822.2 1172.9 823.2 1172.7 824.2 1172.5 825.2 1172.3 826.2 1172.1 827.2 1171.9 828.2 1162.3 829.2 1173.4 830.2 1173.2 831.2 1173 832.2 1161.4 833.2 1161.2 834.2 1171.1 835.2 1170.9 836.2 1170.7 837.2 1170.5 838.2 1170.3 839.2 1170.1 840.2 1165.8 841.2 1165.6 842.2 1171.3 843.2 1171.1 844.2 1170.9 845.2 1170.7 846.2 1170.5 847.2 1163.2 848.2 1168.6 849.2 1168.4 850.2 1168.2 851.2 1162.2 852.2 1162 853.2 1166.9 854.2 1166.7 855.2 1166.5 856.2 1166.2 857.2 1166 858.2 1168.3 859.2 1168.1 860.2 1167.9 861.2 1167.6 862.2 1161.8 863.2 1166.7 864.2 1166.3 865.2 1165.9 866.2 1165.6 867.2 1165.2 868.2 1164.8 869.2 1163.8 870.2 1163.4 871.2 1162.1 872.2 1162 873.2 1162 874.2 1153.9 875.2 1162.7 876.2 1162.6 877.2 1162.6 878.2 1157.3 879.2 1157.3 880.2 1162.8 881.2 1162.8 882.2 1162.7 883.2 1162.7 884.2 1162.6 885.2 1157.6 886.2 1163.3 887.2 1163.3 888.2 1163.3 889.2 1163.2 890.2 1163.2 891.2 1163.1 892.2 1163.1 893.2 1153.5 894.2 1162.8 895.2 1162.3 896.2 1161.8 897.2 1161.3 898.2 1160.8 899.2 1160.3 900.2 1155.8 901.2 1155.3 902.2 1157.4 903.2 1156.9 904.2 1156.4 905.2 1155.9 906.2 1155.4 907.2 1144.5 908.2 1144 909.2 1153.9 910.2 1153.4 911.2 1152.9 912.2 1153.9 913.2 1153.4 914.2 1153.4 915.2 1152.9 916.2 1152.4 917.2 1151.9 918.2 1140.9 919.2 1150.6 920.2 1150.1 921.2 1149.3 922.2 1148.6 923.2 1147.9 924.2 1147.1 925.2 1142.8 926.2 1142.1 927.2 1138.4 928.2 1137.7 929.2 1137 930.2 1136.2 931.2 1135.5 932.2 1134.8 933.2 1134 934.2 1136 935.2 1135.4 936.2 1138.4 937.2 1138.4 938.2 1138.4 939.2 1138.4 940.2 1138.4 941.2 1138.4 942.2 1136.2 943.2 1136.2 944.2 1138.5 945.2 1138.5 946.2 1129.9 947.2 1127.9 948.2 1128.9 949.2 1126.4 950.2 1125.7 951.2 1126.2 952.2 1127.9 953.2 1127.2 954.2 1122.8 955.2 1124.2 956.2 1121.8 957.2 1119.8 958.2 1121.7 959.2 1121.4 960.2 1119.2 961.2 1119.5 962.2 1116.5 963.2 1118.5 964.2 1112.5 965.2 1116 966.2 1112.8 967.2 1108.9 968.2 1105.9 969.2 1109.4 970.2 1106.1 971.2 1104.4 972.2 1104.1 973.2 1103.2 974.2 1100.2 975.2 1094.1 976.2 1091.3 977.2 1086.6 978.2 1088.9 979.2 1087.7 980.2 1084.6 981.2 1080.1 982.2 1076.9 983.2 1077.1 984.2 1068.8 985.2 1071.6 986.2 1062.8 987.2 1059.5 988.2 1058.1 989.2 1052.5 990.2 1046.7 991.2 1039.9 992.2 1032.6 993.2 1025.8 994.2 1021.1 995.2 1011.5 996.2 1000.6 997.2 990 998.2 981.5 999.2 965.8 1000.2 942.8 1001.2 913.1 1001.7 894.3 1002.2 871.3 1002.7 841.6 1003.2 745.6 1003.7 439.8 1004.2 134.1 1004.7 439.8 1005.2 745.6 1005.7 841.6 1006.2 871.3 1006.7 894.3 1007.2 913.1 1008.2 942.8 1009.2 965.8 1010.2 980.8 1011.2 987.6 1012.2 997.1 1013.2 1006.9 1014.2 1017.9 1015.2 1025.1 1016.2 1029.5 1017.2 1038.3 1018.2 1043.3 1019.2 1049 1020.2 1057 1021.2 1059.2 1022.2 1062.2 1023.2 1064.8 1024.2 1071.3 1025.2 1075.6 1026.2 1077 1027.2 1077.6 1028.2 1084.7 1029.2 1084 1030.2 1089 1031.2 1087.7 1032.2 1091.8 1033.2 1097.1 1034.2 1099.7 1035.2 1097.5 1036.2 1097.2 1037.2 1097.4 1038.2 1103.8 1039.2 1111.9 1040.2 1114.1 1041.2 1106.8 1042.2 1118.7 1043.2 1114.3 1044.2 1121.5 1045.2 1117.4 1046.2 1122.1 1047.2 1123.4 1048.2 1120.6 1049.2 1124.3 1050.2 1124.2 1051.2 1124.1 1052.2 1124 1053.2 1125 1054.2 1125.6 1055.2 1128 1056.2 1127.1 1057.2 1131.3 1058.2 1131.9 1059.2 1132.9 1060.2 1134.5 1061.2 1132.2 1062.2 1133.2 1063.2 1133.1 1064.2 1140.4 1065.2 1141.4 1066.2 1136.1 1067.2 1141.6 1068.2 1142.4 1069.2 1140.8 1070.2 1146.6 1071.2 1147.6 1072.2 1144.2 1073.2 1147.6 1074.2 1148.6 1075.2 1149.5 1076.2 1149.7 1077.2 1150 1078.2 1150.2 1079.2 1149.2 1080.2 1149.5 1081.2 1152.7 1082.2 1152.9 1083.2 1153.2 1084.2 1153.4 1085.2 1153.7 1086.2 1153.9 1087.2 1154.3 1088.2 1148.3 1089.2 1154.2 1090.2 1155 1091.2 1155.7 1092.2 1156.5 1093.2 1157.2 1094.2 1150.9 1095.2 1151.7 1096.2 1159.9 1097.2 1160.6 1098.2 1161.4 1099.2 1161.9 1100.2 1161.5 1101.2 1161.1 1102.2 1153 1103.2 1159.2 1104.2 1158.8 1105.2 1158.3 1106.2 1157.9 1107.2 1157.5 1108.2 1157.1 1109.2 1156.7 1110.2 1147 1111.2 1146.7 1112.2 1156.3 1113.2 1156.9 1114.2 1157.4 1115.2 1158 1116.2 1158.6 1117.2 1159.2 1118.2 1150.6 1119.2 1161.1 1120.2 1161.7 1121.2 1162.2 1122.2 1162.8 1123.2 1163.4 1124.2 1163.7 1125.2 1164 1126.2 1158.9 1127.2 1164.2 1128.2 1164.5 1129.2 1164.8 1130.2 1165.1 1131.2 1165.5 1132.2 1165 1133.2 1167.2 1134.2 1167.5 1135.2 1167.8 1136.2 1157.7 1137.2 1169.3 1138.2 1169.2 1139.2 1169.1 1140.2 1169 1141.2 1168.9 1142.2 1159.7 1143.2 1167.4 1144.2 1167.3 1145.2 1167.3 1146.2 1167.2 1147.2 1167.1 1148.2 1162.5 1149.2 1166.4 1150.2 1167 1151.2 1167.6 1152.2 1168.2 1153.2 1160.6 1154.2 1161.1 1155.2 1171.5 1156.2 1172.1 1157.2 1172.7 1158.2 1173.2 1159.2 1173.8 1160.2 1174.2 1161.2 1174.5 1162.2 1173.2 1163.2 1173.5 1164.2 1173.7 1165.2 1174 1166.2 1174.2 1167.2 1174.5 1168.2 1168.6 1169.2 1168.9 1170.2 1175.9 1171.2 1176.1 1172.2 1176.3 1173.2 1176.3 1174.2 1176.2 1175.2 1168.1 1176.2 1168.1 1177.2 1176.9 1178.2 1176.9 1179.2 1176.8 1180.2 1176.8 1181.2 1165.8 1182.2 1165.7 1183.2 1176.4 1184.2 1176.3 1185.2 1176.3 1186.2 1176.2 1187.2 1176.1 1188.2 1176.1 1189.2 1166.8 1190.2 1147.5 1191.2 1177.2 1192.2 1177.1 1193.2 1177.1 1194.2 1177 1195.2 1177 1196.2 1176.9 1197.2 1167.9 1198.2 1174.5 1199.2 1174.4 1200.2 1174.3 1201.2 1174.3 1202.2 1174.2 1203.2 1174.2 1204.2 1175.2 1205.2 1175.2 1206.2 1176.3 1207.2 1176.2 1208.2 1176.2 1209.2 1176.2 1210.2 1176.5 1211.2 1170.7 1212.2 1171 1213.2 1175.9 1214.2 1176.2 1215.2 1176.5 1216.2 1176.8 1217.2 1177.1 1218.2 1177.5 1219.2 1177.8 1220.2 1171.5 1221.2 1171.8 1222.2 1180.2 1223.2 1180.6 1224.2 1180.9 1225.2 1169.5 1226.2 1169.8 1227.2 1181.4 1228.2 1181.8 1229.2 1182.1 1230.2 1173.3 1231.2 1181.3 1232.2 1181.6 1233.2 1181.9 1234.2 1184.3 1235.2 1184.1 1236.2 1183.3 1237.2 1183.1 1238.2 1182.8 1239.2 1182.6 1240.2 1177.7 1241.2 1181.7 1242.2 1181.4 1243.2 1181.2 1244.2 1170.3 1245.2 1179.8 1246.2 1179.5 1247.2 1179.3 1248.2 1179 1249.2 1169.5 1250.2 1169.2 1251.2 1179.8 1252.2 1179.6 1253.2 1179.3 1254.2 1170.2 1255.2 1169.9 1256.2 1175.9 1257.2 1175.7 1258.2 1168.5 1259.2 1168 1260.2 1175.7 1261.2 1175.8 1262.2 1176 1263.2 1176.1 1264.2 1176.2 1265.2 1176.3 1266.2 1167.1 1267.2 1176.9 1268.2 1177 1269.2 1177.2 1270.2 1177.3 1271.2 1170.4 1272.2 1170.5 1273.2 1179.9 1274.2 1180 1275.2 1180.2 1276.2 1180.3 1277.2 1180.4 1278.2 1180.5 1279.2 1169.5 1280.2 1169.6 1281.2 1181.2 1282.2 1181.4 1283.2 1181.5 1284.2 1181.6 1285.2 1181.7 1286.2 1181.8 1287.2 1181.7 1288.2 1181.9 1289.2 1181.1 1290.2 1181.2 1291.2 1181.3 1292.2 1181.5 1293.2 1181.6 1294.2 1181.7 1295.2 1179.5 1296.2 1179.6 1297.2 1182.7 1298.2 1182.9 1299.2 1183 1300.2 1183.1 1301.2 1183.3 1302.2 1183.5 1303.2 1173.6 1304.2 1184.2 1305.2 1184.4 1306.2 1184.6 1307.2 1175.9 1308.2 1182.5 1309.2 1182.7 1310.2 1182.9 1311.2 1183.1 1312.2 1183.3 1313.2 1183.5 1314.2 1183.7 1315.2 1183.9 1316.2 1185.8 1317.2 1186 1318.2 1186.2 1319.2 1186.4 1320.2 1186.6 1321.2 1186.8 1322.2 1187 1323.2 1180 1324.2 1186.4 1325.2 1186.6 1326.2 1186.8 1327.2 1187 1328.2 1187.2 1329.2 1187.4 1330.2 1188.3 1331.2 1189.1 1332.2 1189.3 1333.2 1189.5 1334.2 1189.7 1335.2 1189.9 1336.2 1190.1 1337.2 1178.7 1338.2 1178.9 1339.2 1189 1340.2 1189.2 1341.2 1189.2 1342.2 1189.2 1343.2 1189.3 1344.2 1189.3 1345.2 1179.4 1346.2 1179.4 1347.2 1190.8 1348.2 1190.9 1349.2 1190.9 1350.2 1188.4 1351.2 1188.4 1352.2 1189.8 1353.2 1189.8 1354.2 1189.9 1355.2 1189.9 1356.2 1189.9 1357.2 1181.5 1358.2 1181.5 1359.2 1192.1 1360.2 1192.1 1361.2 1192.2 1362.2 1192.2 1363.2 1192.2 1364.2 1167.5 1365.2 1189.6 1366.2 1189.7 1367.2 1189.7 1368.2 1189.7 1369.2 1171.7 1370.2 1191.8 1371.2 1191.8 1372.2 1191.8 1373.2 1177.1 1374.2 1177.2 1375.2 1192.4 1376.2 1192.4 1377.2 1192.5 1378.2 1192.5 1379.2 1192.5 1380.2 1192.6 1381.2 1192.6 1382.2 1190.7 1383.2 1190.8 1384.2 1192.8 1385.2 1192.9 1386.2 1192.9 1387.2 1190.5 1388.2 1190.5 1389.2 1193.1 1390.2 1193.1 1391.2 1193.2 1392.2 1189.3 1393.2 1189.3 1394.2 1192.3 1395.2 1192.3 1396.2 1192.3 1397.2 1185.6 1398.2 1185.6 1399.2 1190.7 1400.2 1190.7 1401.2 1190.7 1402.2 1190.7 1403.2 1190.7 1404.2 1190.7 1405.2 1190 1406.2 1190.5 1407.2 1190.5 1408.2 1190.6 1409.2 1190.6 1410.2 1190.6 1411.2 1190.6 1412.2 1190.6 1413.2 1190.3 1414.2 1190.3 1415.2 1192.5 1416.2 1192.6 1417.2 1192.6 1418.2 1187.3 1419.2 1187.3 1420.2 1182.6 1421.2 1182.6 1422.2 1182.6 1423.2 1182.6 1424.2 1182.6 1425.2 1182.6 1426.2 1182.6 1427.2 1185.6 1428.2 1185.6 1429.2 1193.7 1430.2 1193.7 1431.2 1193.7 1432.2 1183.1 1433.2 1193.7 1434.2 1193.7 1435.2 1193.7 1436.2 1193.7 1437.2 1191.3 1438.2 1191.7 1439.2 1191.7 1440.2 1191.7 1441.2 1191.7 1442.2 1191.8 1443.2 1191.8 1444.2 1192.3 1445.2 1193.3 1446.2 1193.3 1447.2 1193.3 1448.2 1193.3 1449.2 1193.3 1450.2 1181.3 1451.2 1193.7 1452.2 1193.7 1453.2 1193.7 1454.2 1193.7 1455.2 1193.7 1456.2 1189 1457.2 1191.8 1458.2 1191.8 1459.2 1191.8 1460.2 1191.9 1461.2 1183 1462.2 1183 1463.2 1194.1 1464.2 1194.1 1465.2 1194.1 1466.2 1194.1 1467.2 1194.1 1468.2 1194.1 1469.2 1194 1470.2 1194 1471.2 1193.9 1472.2 1193.9 1473.2 1193.9 1474.2 1193.9 1475.2 1194 1476.2 1194 1477.2 1193.9 1478.2 1194 1479.2 1193.3 1480.2 1193.3 1481.2 1193.3 1482.2 1193.3 1483.2 1193.3 1484.2 1184.1 1485.2 1193.2 1486.2 1193.2 1487.2 1193.2 1488.2 1193.2 1489.2 1193.2 1490.2 1193.2 1491.2 1188.1 1492.2 1191.5 1493.2 1191.5 1494.2 1191.5 1495.2 1187.5 1496.2 1191.8 1497.2 1191.8 1498.2 1191.8 1499.2 1191.8 1500.2 1184.7 1501.2 1193.2 1502.2 1193.2 1503.2 1193.2 1504.2 1193.3 1505.2 1193.3 1506.2 1193.3 1507.2 1185.9 1508.2 1185.9 1509.2 1193.3 1510.2 1193.3 1511.2 1193.4 1512.2 1185.5 1513.2 1191.6 1514.2 1191.7 1515.2 1191.7 1516.2 1191.7 1517.2 1190.3 1518.2 1190.3 1519.2 1192 1520.2 1192 1521.2 1192 1522.2 1192.1 1523.2 1192.1 1524.2 1192.1 1525.2 1192.1 1526.2 1189.8 1527.2 1195 1528.2 1195 1529.2 1195 1530.2 1189.3 1531.2 1189.3 1532.2 1194.6 1533.2 1194.7 1534.2 1194.7 1535.2 1194.7 1536.2 1194.7 1537.2 1194.8 1538.2 1194.8 1539.2 1188.3 1540.2 1193.3 1541.2 1193.3 1542.2 1193.3 1543.2 1185.1 1544.2 1195.4 1544.2 1202.5 1034.2 1202.5 1033.2 1183.9 1032.2 1171.2 1031.2 1159.6 1030.2 1153.2 1029.2 1146.6 1028.2 1140 1027.2 1133.1 1026.2 1126.9 1025.2 1120.5 1024.2 1113.8 1023.2 1106.8 1022.2 1099.4 1021.2 1091.6 1020.2 1083.3 1019.2 1074.7 1018.2 1067.5 1017.2 1059.8 1016.2 1051.4 1015.2 1040.7 1014.2 1027.2 1013.2 1013.6 1012.2 1000.3 1011.2 988.1 1010.2 980.9 1009.2 965.8 1008.2 942.8 1007.2 913.1 1006.7 894.3 1006.2 871.3 1005.7 841.6 1005.2 745.6 1004.7 439.8 1004.2 134.1 1003.7 439.8 1003.2 745.6 1002.7 841.6 1002.2 871.3 1001.7 894.3 1001.2 913.1 1000.2 942.8 999.2 965.8 998.2 981.5 997.2 990 996.2 1000.6 995.2 1018.5 994.2 1032.8 993.2 1045.8 992.2 1056.5 991.2 1066.3 990.2 1075.4 989.2 1084.2 988.2 1092.5 987.2 1100.2 986.2 1107.1 985.2 1113.2 984.2 1119 983.2 1124.6 982.2 1129.9 981.2 1135.1 980.2 1140.2 979.2 1145.2 978.2 1153.3 977.2 1163.1 976.2 1174.1 975.2 1184.8 974.2 1202.5 241.2 1202.5Z"/>
<path fill="#ff8000" stroke="#ff8000" d="M241.2 1202.5 699.2 1202.5 700.2 1202.3 701.2 1202 702.2 1201.7 703.2 1200 704.2 1199.7 705.2 1200.1 706.2 1199.8 707.2 1199.5 708.2 1199.2 709.2 1198.9 710.2 1198.6 711.2 1198.3 712.2 1198.4 713.2 1197.4 714.2 1197.1 715.2 1196.8 716.2 1194.6 717.2 1196 718.2 1195.7 719.2 1195.4 720.2 1195.1 721.2 1196.9 722.2 1196.6 723.2 1195.6 724.2 1195.3 725.2 1195 726.2 1194.7 727.2 1190 728.2 1192.7 729.2 1192.4 730.2 1192.1 731.2 1191.8 732.2 1191.5 733.2 1191.2 734.2 1190.9 735.2 1187.8 736.2 1192.1 737.2 1191.8 738.2 1191.5 739.2 1191.2 740.2 1190.9 741.2 1190.6 742.2 1184.8 743.2 1184.5 744.2 1187.7 745.2 1187.4 746.2 1187.1 747.2 1186.8 748.2 1187.8 749.2 1188.3 750.2 1188 751.2 1187.7 752.2 1187.4 753.2 1187.1 754.2 1186.8 755.2 1186.5 756.2 1186.4 757.2 1183.5 758.2 1183.2 759.2 1182.9 760.2 1182.6 761.2 1182.3 762.2 1176.2 763.2 1175.9 764.2 1182.1 765.2 1181.8 766.2 1181.5 767.2 1172.8 768.2 1172.5 769.2 1180.1 770.2 1179.8 771.2 1179.5 772.2 1174.2 773.2 1178.7 774.2 1178.4 775.2 1178.1 776.2 1170.1 777.2 1169.8 778.2 1179.8 779.2 1179.5 780.2 1179.2 781.2 1178.9 782.2 1166.3 783.2 1176.8 784.2 1176.5 785.2 1176.2 786.2 1175.9 787.2 1175.6 788.2 1169 789.2 1168.7 790.2 1173.8 791.2 1172.9 792.2 1172 793.2 1171.1 794.2 1170.1 795.2 1169.2 796.2 1168.3 797.2 1157.4 798.2 1166 799.2 1165.1 800.2 1164.1 801.2 1163.2 802.2 1162.3 803.2 1161.4 804.2 1160.5 805.2 1162.4 806.2 1161.5 807.2 1159.9 808.2 1159 809.2 1158.1 810.2 1147.4 811.2 1146.5 812.2 1155.8 813.2 1154.9 814.2 1154 815.2 1152.2 816.2 1151 817.2 1150.5 818.2 1149.2 819.2 1148 820.2 1146.7 821.2 1138.6 822.2 1141.9 823.2 1141 824.2 1141.1 825.2 1133.4 826.2 1133.5 827.2 1143.6 828.2 1131.8 829.2 1139.5 830.2 1130.4 831.2 1126.3 832.2 1127.7 833.2 1124.1 834.2 1122.9 835.2 1123.8 836.2 1122.8 837.2 1121.7 838.2 1122 839.2 1122.4 840.2 1119.2 841.2 1112.3 842.2 1119.1 843.2 1108.1 844.2 1105.2 845.2 1111.8 846.2 1107.6 847.2 1106.2 848.2 1096.8 849.2 1102.6 850.2 1089.5 851.2 1089.8 852.2 1089.5 853.2 1086.2 854.2 1085.5 855.2 1073 856.2 1072 857.2 1063.4 858.2 1062.2 859.2 1059.3 860.2 1049.3 861.2 1050.9 862.2 1043 863.2 1036.9 864.2 1030.4 865.2 1019.4 866.2 1011.9 867.2 997.5 868.2 979.8 869.2 956.8 870.2 927.1 870.7 908.3 871.2 885.3 871.7 855.6 872.2 753 872.7 436.4 873.2 119.6 873.7 436.4 874.2 753 874.7 855.6 875.2 885.3 875.7 908.3 876.2 927.1 877.2 956.8 878.2 990.4 879.2 1001 880.2 1010 881.2 1018.2 882.2 1023.6 883.2 1029 884.2 1035.9 885.2 1040.7 886.2 1048 887.2 1052.6 888.2 1061.5 889.2 1059.8 890.2 1062.3 891.2 1077.1 892.2 1081 893.2 1084.8 894.2 1083.8 895.2 1092.6 896.2 1092.8 897.2 1099.5 898.2 1103 899.2 1105.5 900.2 1103.4 901.2 1100.7 902.2 1105.7 903.2 1117.7 904.2 1115 905.2 1114 906.2 1124.9 907.2 1124.6 908.2 1122 909.2 1128.1 910.2 1131.1 911.2 1126.7 912.2 1134.9 913.2 1132.5 914.2 1136.2 915.2 1136.6 916.2 1135.4 917.2 1139 918.2 1135.7 919.2 1136.6 920.2 1141.3 921.2 1139.3 922.2 1142.7 923.2 1139.7 924.2 1141.4 925.2 1142.7 926.2 1145.4 927.2 1143.7 928.2 1143.4 929.2 1144.4 930.2 1145 931.2 1155 932.2 1155.1 933.2 1155.2 934.2 1148.4 935.2 1153.1 936.2 1153.1 937.2 1153.1 938.2 1153.1 939.2 1153.1 940.2 1153.1 941.2 1153.1 942.2 1147.2 943.2 1147.2 944.2 1153.4 945.2 1153.4 946.2 1153.4 947.2 1153.6 948.2 1154.6 949.2 1155.6 950.2 1155.8 951.2 1156.8 952.2 1159.5 953.2 1160.5 954.2 1161.5 955.2 1162.5 956.2 1164.2 957.2 1165.2 958.2 1165.8 959.2 1166.8 960.2 1167.6 961.2 1160.4 962.2 1169.2 963.2 1169.5 964.2 1169.9 965.2 1170.2 966.2 1170.5 967.2 1164.4 968.2 1164.7 969.2 1171.3 970.2 1171.6 971.2 1171.9 972.2 1172.3 973.2 1172.6 974.2 1172.9 975.2 1170.7 976.2 1171 977.2 1174.2 978.2 1174.5 979.2 1174.9 980.2 1175.2 981.2 1175.5 982.2 1166.9 983.2 1173.2 984.2 1173.5 985.2 1173.8 986.2 1174.2 987.2 1174.5 988.2 1174.8 989.2 1175.2 990.2 1169.1 991.2 1178.5 992.2 1178.8 993.2 1179 994.2 1179.3 995.2 1179.5 996.2 1179.8 997.2 1178 998.2 1178.2 999.2 1178.7 1000.2 1179 1001.2 1179.2 1002.2 1179.5 1003.2 1180.5 1004.2 1180.8 1005.2 1182.3 1006.2 1182.5 1007.2 1182.8 1008.2 1183 1009.2 1179 1010.2 1180.4 1011.2 1180.6 1012.2 1180.9 1013.2 1183.5 1014.2 1183.7 1015.2 1182.7 1016.2 1182.9 1017.2 1183.2 1018.2 1183.4 1019.2 1183.7 1020.2 1184.8 1021.2 1184.7 1022.2 1185 1023.2 1185.2 1024.2 1183.3 1025.2 1183.6 1026.2 1186.1 1027.2 1186.3 1028.2 1186.6 1029.2 1186.8 1030.2 1188.5 1031.2 1188.7 1032.2 1186.7 1033.2 1187 1034.2 1187.2 1035.2 1187.5 1036.2 1187.7 1037.2 1188 1038.2 1188.2 1039.2 1185.6 1040.2 1188 1041.2 1188.2 1042.2 1188.5 1043.2 1188.7 1044.2 1189 1045.2 1179.4 1046.2 1179.6 1047.2 1189.7 1048.2 1189.9 1049.2 1190.2 1050.2 1190.4 1051.2 1190.6 1052.2 1190.8 1053.2 1183.7 1054.2 1183.9 1055.2 1192.1 1056.2 1192.3 1057.2 1192.5 1058.2 1192.7 1059.2 1192.9 1060.2 1183.7 1061.2 1193.5 1062.2 1193.7 1063.2 1193.9 1064.2 1194.1 1065.2 1194.3 1066.2 1194.5 1067.2 1194.7 1068.2 1196.2 1069.2 1196.4 1070.2 1195.9 1071.2 1196.1 1072.2 1196.3 1073.2 1196.5 1074.2 1191.8 1075.2 1192 1076.2 1198.7 1077.2 1198.9 1078.2 1199.1 1079.2 1199.3 1080.2 1191.7 1081.2 1191.9 1082.2 1198 1083.2 1198.2 1084.2 1198.4 1085.2 1198.6 1086.2 1198.8 1087.2 1195.3 1088.2 1200.1 1089.2 1200.3 1090.2 1200.5 1091.2 1194.4 1092.2 1194.6 1093.2 1200.7 1094.2 1200.9 1095.2 1201.1 1096.2 1201.3 1097.2 1201.5 1098.2 1201.7 1099.2 1196.6 1100.2 1202.3 1101.2 1202.4 1102.2 1202.5 1106.2 1202.5 1107.2 1199.3 1108.2 1202.5 1119.2 1202.5 1120.2 1196.8 1121.2 1202.5 1129.2 1202.5 1130.2 1196.5 1131.2 1202.5 1137.2 1202.5 1138.2 1199.5 1139.2 1199.6 1140.2 1202.5 1544.2 1202.5 1544.2 1202.5 903.2 1202.5 902.2 1186.3 901.2 1178.6 900.2 1170.7 899.2 1162.5 898.2 1157 897.2 1152.2 896.2 1147.1 895.2 1142.2 894.2 1137.2 893.2 1131.8 892.2 1125.7 891.2 1119.3 890.2 1112.6 889.2 1105.4 888.2 1096.3 887.2 1086.2 886.2 1075.4 885.2 1063.1 884.2 1049.8 883.2 1036.9 882.2 1023.6 881.2 1018.2 880.2 1010 879.2 1001 878.2 990.4 877.2 956.8 876.2 927.1 875.7 908.3 875.2 885.3 874.7 855.6 874.2 753 873.7 436.4 873.2 119.6 872.7 436.4 872.2 753 871.7 855.6 871.2 885.3 870.7 908.3 870.2 927.1 869.2 956.8 868.2 979.8 867.2 997.5 866.2 1011.9 865.2 1019.4 864.2 1030.4 863.2 1042 862.2 1053.7 861.2 1064 860.2 1073.6 859.2 1083.8 858.2 1093.7 857.2 1103 856.2 1109.6 855.2 1115.7 854.2 1121.4 853.2 1126.8 852.2 1131.9 851.2 1137.2 850.2 1142.2 849.2 1147.6 848.2 1157.7 847.2 1167.4 846.2 1176.7 845.2 1185.6 844.2 1202.5 241.2 1202.5Z"/>
<path fill="#ffff00" stroke="#ffff00" d="M241.2 1202.5 559.2 1202.5 560.2 1200.9 561.2 1195 562.2 1194.6 563.2 1194.3 564.2 1194.9 565.2 1194.5 566.2 1199.9 567.2 1199.5 568.2 1199.2 569.2 1198.8 570.2 1198.4 571.2 1198 572.2 1197.7 573.2 1191.6 574.2 1191.3 575.2 1194.8 576.2 1194.4 577.2 1194.1 578.2 1193 579.2 1192.6 580.2 1193.3 581.2 1192.9 582.2 1192.5 583.2 1192.2 584.2 1191.8 585.2 1184.2 586.2 1183.9 587.2 1191.5 588.2 1191.1 589.2 1190.7 590.2 1190.4 591.2 1190 592.2 1189.6 593.2 1188.4 594.2 1189 595.2 1188.6 596.2 1188.2 597.2 1187.8 598.2 1187.5 599.2 1182.4 600.2 1182 601.2 1187.7 602.2 1187.3 603.2 1187 604.2 1177 605.2 1185.2 606.2 1184.8 607.2 1184.4 608.2 1184 609.2 1183.7 610.2 1184.6 611.2 1184.2 612.2 1182.4 613.2 1182 614.2 1181.6 615.2 1181.3 616.2 1180.9 617.2 1180 618.2 1179.7 619.2 1180.9 620.2 1180.6 621.2 1180.2 622.2 1179.8 623.2 1179.4 624.2 1179.1 625.2 1178.7 626.2 1166.6 627.2 1177.8 628.2 1177.5 629.2 1177.1 630.2 1176.3 631.2 1175.9 632.2 1163.7 633.2 1163.3 634.2 1163 635.2 1162.6 636.2 1162.2 637.2 1161.8 638.2 1173.1 639.2 1172.7 640.2 1172.5 641.2 1171.8 642.2 1171.1 643.2 1169.6 644.2 1168.8 645.2 1156.6 646.2 1155.9 647.2 1155.2 648.2 1154.5 649.2 1153.7 650.2 1162 651.2 1165 652.2 1164.3 653.2 1163.6 654.2 1162.9 655.2 1161.9 656.2 1159.8 657.2 1159.1 658.2 1158.4 659.2 1157.7 660.2 1157 661.2 1156.2 662.2 1144.7 663.2 1155.3 664.2 1154.5 665.2 1153.8 666.2 1153.1 667.2 1152.4 668.2 1140.3 669.2 1150.8 670.2 1150.1 671.2 1149.4 672.2 1148.7 673.2 1148 674.2 1136.7 675.2 1135.7 676.2 1134.4 677.2 1133.1 678.2 1139.5 679.2 1138.2 680.2 1140.9 681.2 1139.8 682.2 1139.8 683.2 1139.8 684.2 1139.2 685.2 1138.6 686.2 1138.6 687.2 1131.8 688.2 1124.6 689.2 1126.5 690.2 1125 691.2 1125.8 692.2 1122.3 693.2 1120.4 694.2 1123.3 695.2 1119.1 696.2 1114.3 697.2 1117.9 698.2 1117.9 699.2 1109 700.2 1108.7 701.2 1109.8 702.2 1107.8 703.2 1110.5 704.2 1107 705.2 1107.4 706.2 1097.9 707.2 1094.8 708.2 1102.3 709.2 1100.5 710.2 1092.2 711.2 1091.9 712.2 1088.7 713.2 1089.2 714.2 1090.7 715.2 1087.1 716.2 1078.8 717.2 1080 718.2 1077.4 719.2 1067.4 720.2 1067.4 721.2 1063.2 722.2 1060.1 723.2 1065 724.2 1055.7 725.2 1056.7 726.2 1051.4 727.2 1047.8 728.2 1043.3 729.2 1035.5 730.2 1032.1 731.2 1027.1 732.2 1022 733.2 1013.8 734.2 1006.4 735.2 997.9 736.2 989.5 737.2 984.6 738.2 979 739.2 964.6 740.2 945.8 741.2 922.8 742.2 893.1 742.7 874.3 743.2 851.3 743.7 821.6 744.2 727.3 744.7 424.4 745.2 121.4 745.7 424.4 746.2 727.3 746.7 821.6 747.2 851.3 747.7 874.3 748.2 893.1 749.2 922.8 750.2 945.8 751.2 964.6 752.2 979.1 753.2 985.5 754.2 991.8 755.2 1000.7 756.2 1009.9 757.2 1016 758.2 1020.8 759.2 1031 760.2 1032.5 761.2 1039 762.2 1042 763.2 1051.4 764.2 1049.8 765.2 1056.2 766.2 1060.8 767.2 1059.6 768.2 1062.3 769.2 1065.7 770.2 1066.9 771.2 1068 772.2 1070.1 773.2 1075.2 774.2 1077 775.2 1077.2 776.2 1081.5 777.2 1079.5 778.2 1081.2 779.2 1082.8 780.2 1090.8 781.2 1091.3 782.2 1093.8 783.2 1093.5 784.2 1098.2 785.2 1097 786.2 1096.2 787.2 1099.8 788.2 1104 789.2 1101.5 790.2 1103.2 791.2 1110.6 792.2 1107.2 793.2 1116.9 794.2 1119.2 795.2 1118.9 796.2 1115.1 797.2 1123.1 798.2 1119.3 799.2 1122.4 800.2 1125.6 801.2 1126.5 802.2 1123.3 803.2 1129.9 804.2 1126 805.2 1130.8 806.2 1127.8 807.2 1130 808.2 1138.3 809.2 1138.3 810.2 1131.2 811.2 1131.2 812.2 1137.4 813.2 1137.4 814.2 1137.4 815.2 1137.4 816.2 1137.4 817.2 1137.6 818.2 1130.3 819.2 1131.3 820.2 1142.4 821.2 1143.4 822.2 1144.4 823.2 1145.4 824.2 1146.4 825.2 1147.4 826.2 1145.3 827.2 1146.3 828.2 1148.7 829.2 1149.7 830.2 1150.7 831.2 1151.5 832.2 1151.4 833.2 1151.4 834.2 1151.3 835.2 1148.4 836.2 1148.3 837.2 1152.4 838.2 1152.4 839.2 1152.3 840.2 1152.2 841.2 1152.2 842.2 1152.1 843.2 1149.5 844.2 1149.4 845.2 1151.1 846.2 1151.3 847.2 1152.2 848.2 1150.3 849.2 1151.2 850.2 1157.3 851.2 1158.2 852.2 1159.2 853.2 1160.1 854.2 1161 855.2 1161.9 856.2 1162.9 857.2 1163 858.2 1164.2 859.2 1165.1 860.2 1165.9 861.2 1166.1 862.2 1166.3 863.2 1166.5 864.2 1154.5 865.2 1167 866.2 1167.2 867.2 1167.4 868.2 1167.6 869.2 1167.9 870.2 1168.1 871.2 1168.3 872.2 1165.7 873.2 1165.9 874.2 1166.7 875.2 1167 876.2 1167.3 877.2 1167.7 878.2 1168 879.2 1166.6 880.2 1170.9 881.2 1171.2 882.2 1171.6 883.2 1171.9 884.2 1172.2 885.2 1172.6 886.2 1172.9 887.2 1166.9 888.2 1173.1 889.2 1173.4 890.2 1173.8 891.2 1175.1 892.2 1175.4 893.2 1175.6 894.2 1175.9 895.2 1176.2 896.2 1176.2 897.2 1176.2 898.2 1176.2 899.2 1170.9 900.2 1170.9 901.2 1174.6 902.2 1174.6 903.2 1174.6 904.2 1169.3 905.2 1174.3 906.2 1174.3 907.2 1174.3 908.2 1174.3 909.2 1174.3 910.2 1174.3 911.2 1170 912.2 1176.4 913.2 1176.4 914.2 1176.4 915.2 1176.4 916.2 1176.4 917.2 1176.4 918.2 1176.4 919.2 1174.5 920.2 1174.5 921.2 1174.2 922.2 1174.2 923.2 1174.2 924.2 1174.2 925.2 1174.4 926.2 1173.1 927.2 1174 928.2 1174.1 929.2 1174.3 930.2 1170.3 931.2 1170.5 932.2 1176.6 933.2 1176.7 934.2 1176.9 935.2 1177 936.2 1177.1 937.2 1177.3 938.2 1175.8 939.2 1176 940.2 1165.4 941.2 1165.5 942.2 1165.6 943.2 1165.8 944.2 1165.9 945.2 1166 946.2 1166.2 947.2 1178.8 948.2 1179.4 949.2 1179.5 950.2 1179.7 951.2 1179.8 952.2 1179.9 953.2 1180 954.2 1175.1 955.2 1179.7 956.2 1179.8 957.2 1179.9 958.2 1180.1 959.2 1180.2 960.2 1179.7 961.2 1179.8 962.2 1180.6 963.2 1180.8 964.2 1180.9 965.2 1181 966.2 1181.2 967.2 1181.4 968.2 1181.5 969.2 1180.3 970.2 1180.5 971.2 1180.6 972.2 1180.7 973.2 1180.9 974.2 1181 975.2 1181.1 976.2 1176.5 977.2 1176.6 978.2 1181.1 979.2 1181.2 980.2 1181.4 981.2 1181.5 982.2 1181.6 983.2 1176.1 984.2 1176.2 985.2 1183.4 986.2 1183.5 987.2 1183.6 988.2 1173.8 989.2 1173.9 990.2 1182.9 991.2 1183 992.2 1183.2 993.2 1180.3 994.2 1184.1 995.2 1184.2 996.2 1184.3 997.2 1184.5 998.2 1184.6 999.2 1177.6 1000.2 1184.1 1001.2 1184.3 1002.2 1184.4 1003.2 1184.5 1004.2 1184.6 1005.2 1184.7 1006.2 1184.9 1007.2 1185.6 1008.2 1185.8 1009.2 1185.8 1010.2 1185.9 1011.2 1186.1 1012.2 1186.5 1013.2 1186.6 1014.2 1185.1 1015.2 1185.2 1016.2 1185.4 1017.2 1185.5 1018.2 1185.6 1019.2 1185.7 1020.2 1185.8 1021.2 1177.5 1022.2 1177.6 1023.2 1187.1 1024.2 1187.3 1025.2 1187.4 1026.2 1189.5 1027.2 1189.6 1028.2 1187.4 1029.2 1187.5 1030.2 1187.6 1031.2 1187.7 1032.2 1188.8 1033.2 1188.9 1034.2 1189.4 1035.2 1189.5 1036.2 1189.6 1037.2 1189.7 1038.2 1186.5 1039.2 1191.1 1040.2 1191.2 1041.2 1191.4 1042.2 1191.5 1043.2 1184.6 1044.2 1184.7 1045.2 1189.3 1046.2 1189.5 1047.2 1189.6 1048.2 1189.7 1049.2 1189.8 1050.2 1191.2 1051.2 1191.3 1052.2 1189.5 1053.2 1189.6 1054.2 1189.7 1055.2 1189.8 1056.2 1181.9 1057.2 1182 1058.2 1191.1 1059.2 1191.2 1060.2 1191.3 1061.2 1191.4 1062.2 1191.4 1063.2 1191.5 1064.2 1191.6 1065.2 1192.6 1066.2 1192.7 1067.2 1192 1068.2 1192.1 1069.2 1192.1 1070.2 1192.2 1071.2 1192.3 1072.2 1189.9 1073.2 1192.8 1074.2 1192.9 1075.2 1193 1076.2 1193.1 1077.2 1183.1 1078.2 1183.2 1079.2 1192.9 1080.2 1193 1081.2 1193.1 1082.2 1193.2 1083.2 1193.2 1084.2 1193.3 1085.2 1193.4 1086.2 1194.4 1087.2 1195.1 1088.2 1195.2 1089.2 1195.3 1090.2 1195.3 1091.2 1195.4 1092.2 1195.5 1093.2 1195.6 1094.2 1193 1095.2 1193.1 1096.2 1195.9 1097.2 1196 1098.2 1196.1 1099.2 1196.1 1100.2 1188.1 1101.2 1196.3 1102.2 1196.4 1103.2 1196.6 1104.2 1196.8 1105.2 1196.9 1106.2 1197.1 1107.2 1189.9 1108.2 1190.1 1109.2 1195.3 1110.2 1195.5 1111.2 1195.7 1112.2 1195.9 1113.2 1198.2 1114.2 1197 1115.2 1197.2 1116.2 1197.3 1117.2 1194 1118.2 1194.2 1119.2 1196.7 1120.2 1196.8 1121.2 1197 1122.2 1197.2 1123.2 1195.7 1124.2 1200 1125.2 1200.2 1126.2 1200.4 1127.2 1200.5 1128.2 1200.7 1129.2 1193.3 1130.2 1193.5 1131.2 1201.7 1132.2 1201.9 1133.2 1202.1 1134.2 1202.2 1135.2 1192.7 1136.2 1192.9 1137.2 1200.9 1138.2 1201.1 1139.2 1201.2 1140.2 1201.4 1141.2 1201.6 1142.2 1201.8 1143.2 1201.9 1144.2 1201.5 1145.2 1201.7 1146.2 1202.3 1147.2 1202.5 1152.2 1202.5 1153.2 1199.9 1154.2 1200 1155.2 1202.5 1158.2 1202.5 1159.2 1196.2 1160.2 1202.5 1165.2 1202.5 1166.2 1197.9 1167.2 1198.2 1168.2 1198.4 1169.2 1198.6 1170.2 1198.9 1171.2 1202.5 1185.2 1202.5 1186.2 1200.7 1187.2 1200.9 1188.2 1202.5 1190.2 1202.5 1191.2 1200.2 1192.2 1202.5 1544.2 1202.5 1544.2 1202.5 784.2 1202.5 783.2 1186 782.2 1177.8 781.2 1169.4 780.2 1160.8 779.2 1154.1 778.2 1147.3 777.2 1143.8 776.2 1140.6 775.2 1137.2 774.2 1133.8 773.2 1129.7 772.2 1125 771.2 1120.2 770.2 1115.2 769.2 1109.9 768.2 1104.5 767.2 1098.4 766.2 1092 765.2 1085.3 764.2 1078.3 763.2 1071.8 762.2 1065.4 761.2 1058.7 760.2 1051.5 759.2 1043.4 758.2 1034 757.2 1023.9 756.2 1014 755.2 1004.2 754.2 993.5 753.2 985.8 752.2 979.2 751.2 964.6 750.2 945.8 749.2 922.8 748.2 893.1 747.7 874.3 747.2 851.3 746.7 821.6 746.2 727.3 745.7 424.4 745.2 121.4 744.7 424.4 744.2 727.3 743.7 821.6 743.2 851.3 742.7 874.3 742.2 893.1 741.2 922.8 740.2 945.8 739.2 964.6 738.2 979 737.2 984.9 736.2 990 735.2 1004.3 734.2 1017.3 733.2 1028.1 732.2 1037.9 731.2 1047 730.2 1053.5 729.2 1059.6 728.2 1065.4 727.2 1070.8 726.2 1076 725.2 1082.3 724.2 1088.2 723.2 1093.8 722.2 1099.2 721.2 1104.6 720.2 1111.7 719.2 1118.4 718.2 1124.9 717.2 1131.2 716.2 1136.6 715.2 1141.7 714.2 1146.6 713.2 1155 712.2 1163.2 711.2 1171.1 710.2 1178.8 709.2 1186.3 708.2 1202.5 241.2 1202.5Z"/>
<path fill="#bd5922" stroke="#bd5922" d="M241.1 1202.5 399.1 1202.5 400.1 1198.6 401.1 1202.5 405.1 1202.5 406.1 1198 407.1 1197.9 408.1 1202.5 422.1 1202.5 423.1 1181.3 424.1 1181.2 425.1 1202.5 428.1 1202.5 429.1 1197.7 430.1 1202.3 431.1 1202.2 432.1 1202 433.1 1198.6 434.1 1202.5 435.1 1202.5 436.1 1202.5 437.1 1202.3 438.1 1202.2 439.1 1202 440.1 1201.9 441.1 1197.2 442.1 1197 443.1 1200.6 444.1 1200.4 445.1 1200.3 446.1 1193 447.1 1192.8 448.1 1200.1 449.1 1200 450.1 1199.8 451.1 1199.7 452.1 1199.5 453.1 1199.4 454.1 1199.2 455.1 1197.7 456.1 1197.6 457.1 1198 458.1 1197.9 459.1 1197.7 460.1 1197.6 461.1 1197.4 462.1 1197.3 463.1 1197.1 464.1 1190.4 465.1 1190.3 466.1 1198.2 467.1 1198 468.1 1197.9 469.1 1197.7 470.1 1197.6 471.1 1197.4 472.1 1197.3 473.1 1185.9 474.1 1185.7 475.1 1194.8 476.1 1194.7 477.1 1194.5 478.1 1194.4 479.1 1193.7 480.1 1193.8 481.1 1193.6 482.1 1193.5 483.1 1193.3 484.1 1193.2 485.1 1193 486.1 1186.9 487.1 1186.7 488.1 1194.7 489.1 1194.5 490.1 1194.4 491.1 1194.2 492.1 1194.1 493.1 1192.6 494.1 1191.2 495.1 1191.1 496.1 1190.9 497.1 1183 498.1 1182.9 499.1 1193.5 500.1 1193.3 501.1 1193 502.1 1192.6 503.1 1192.3 504.1 1190.8 505.1 1190.4 506.1 1188.4 507.1 1188.1 508.1 1187.8 509.1 1187.4 510.1 1182.1 511.1 1188 512.1 1187.7 513.1 1187.3 514.1 1187 515.1 1186.7 516.1 1186.3 517.1 1186 518.1 1187 519.1 1184.9 520.1 1184.6 521.1 1184.3 522.1 1183.9 523.1 1183.6 524.1 1183.3 525.1 1182.9 526.1 1153.5 527.1 1182.4 528.1 1182.1 529.1 1181.8 530.1 1174.1 531.1 1173.8 532.1 1180.9 533.1 1180.5 534.1 1180.2 535.1 1174 536.1 1173.6 537.1 1178.2 538.1 1177.8 539.1 1177.5 540.1 1177.2 541.1 1176.8 542.1 1176.5 543.1 1170.2 544.1 1177.5 545.1 1177.2 546.1 1176.9 547.1 1167.1 548.1 1166.8 549.1 1174.9 550.1 1174.6 551.1 1174.2 552.1 1173.9 553.1 1173.6 554.1 1173.2 555.1 1168.1 556.1 1167.8 557.1 1173.5 558.1 1173.2 559.1 1172.8 560.1 1172.4 561.1 1171.4 562.1 1170.4 563.1 1169.4 564.1 1165.5 565.1 1164.5 566.1 1164.4 567.1 1163.4 568.1 1162.4 569.1 1161.4 570.1 1155.5 571.1 1154.5 572.1 1159.5 573.1 1158.5 574.1 1157.5 575.1 1156.5 576.1 1155.5 577.1 1154.5 578.1 1150 579.1 1149 580.1 1151.2 581.1 1150.2 582.1 1149.2 583.1 1137.8 584.1 1149 585.1 1148 586.1 1147 587.1 1146 588.1 1145 589.1 1144 590.1 1137.4 591.1 1140.4 592.1 1139.4 593.1 1138.5 594.1 1137.9 595.1 1137.3 596.1 1136.8 597.1 1130.7 598.1 1136.7 599.1 1130.8 600.1 1128.1 601.1 1128.6 602.1 1121.9 603.1 1123.3 604.1 1120.2 605.1 1122.2 606.1 1118.1 607.1 1117.9 608.1 1118.3 609.1 1109.9 610.1 1113 611.1 1108.1 612.1 1110.1 613.1 1107.5 614.1 1099.5 615.1 1100.3 616.1 1097.9 617.1 1098.3 618.1 1093.3 619.1 1085.8 620.1 1084 621.1 1079 622.1 1069.6 623.1 1065.3 624.1 1060.9 625.1 1056 626.1 1045.2 627.1 1038.2 628.1 1027.6 629.1 1016.9 630.1 1004.8 631.1 990 632.1 955.1 632.6 936.3 633.1 913.3 633.6 883.6 634.1 778 634.6 456.4 635.1 134.6 635.6 456.4 636.1 778 636.6 883.6 637.1 913.3 637.6 936.3 638.1 955.1 639.1 991.3 640.1 1002.8 641.1 1011.6 642.1 1020.5 643.1 1027.8 644.1 1039.3 645.1 1042.9 646.1 1049 647.1 1055.6 648.1 1065.5 649.1 1066 650.1 1073.1 651.1 1078.3 652.1 1082.1 653.1 1087.2 654.1 1085.2 655.1 1092.1 656.1 1094.9 657.1 1095.4 658.1 1104.4 659.1 1105.5 660.1 1109.9 661.1 1115.9 662.1 1112.4 663.1 1122.6 664.1 1119.7 665.1 1124.3 666.1 1125.9 667.1 1132.4 668.1 1129.3 669.1 1132.6 670.1 1133.1 671.1 1132.8 672.1 1137.8 673.1 1135.3 674.1 1140.7 675.1 1140.9 676.1 1137.5 677.1 1141.4 678.1 1144.2 679.1 1144.3 680.1 1144.5 681.1 1148 682.1 1150.8 683.1 1152 684.1 1153.2 685.1 1154.3 686.1 1155.5 687.1 1155.2 688.1 1156.1 689.1 1158.1 690.1 1159 691.1 1159.9 692.1 1160.9 693.1 1161.8 694.1 1162.7 695.1 1159.6 696.1 1160.5 697.1 1151.9 698.1 1152.8 699.1 1153.7 700.1 1161.3 701.1 1167.7 702.1 1167.9 703.1 1168.1 704.1 1168.2 705.1 1165.9 706.1 1168.9 707.1 1169 708.1 1169.2 709.1 1169.4 710.1 1169.5 711.1 1169.7 712.1 1169.9 713.1 1160.2 714.1 1160.4 715.1 1168.4 716.1 1168.6 717.1 1168.8 718.1 1168.9 719.1 1166.6 720.1 1170.2 721.1 1170.4 722.1 1170.5 723.1 1170.7 724.1 1170.9 725.1 1171 726.1 1171.2 727.1 1169.9 728.1 1167.2 729.1 1167.4 730.1 1167.5 731.1 1167.7 732.1 1167.9 733.1 1168 734.1 1168.2 735.1 1162.9 736.1 1163.1 737.1 1171.7 738.1 1171.9 739.1 1172 740.1 1168.1 741.1 1168.3 742.1 1174.8 743.1 1174.9 744.1 1175.1 745.1 1175.3 746.1 1175.4 747.1 1175.6 748.1 1175.8 749.1 1167 750.1 1167.2 751.1 1176.4 752.1 1176.6 753.1 1176.8 754.1 1176.9 755.1 1177.1 756.1 1177.3 757.1 1177.4 758.1 1175.8 759.1 1177.4 760.1 1177.5 761.1 1177.8 762.1 1178 763.1 1173 764.1 1173.2 765.1 1178.3 766.1 1178.5 767.1 1178.8 768.1 1179 769.1 1174.9 770.1 1179.4 771.1 1179.6 772.1 1179.9 773.1 1180.1 774.1 1180.4 775.1 1182.2 776.1 1179.7 777.1 1180 778.1 1180.2 779.1 1180.5 780.1 1180.7 781.1 1171.3 782.1 1184 783.1 1184.3 784.1 1184.5 785.1 1184.8 786.1 1185 787.1 1185.3 788.1 1183.5 789.1 1184.5 790.1 1171.5 791.1 1185 792.1 1185.2 793.1 1176.4 794.1 1186.7 795.1 1186.9 796.1 1187.2 797.1 1181.7 798.1 1186.7 799.1 1186.9 800.1 1187.2 801.1 1187.3 802.1 1179.5 803.1 1179.6 804.1 1187.7 805.1 1187.8 806.1 1188 807.1 1188.1 808.1 1186 809.1 1186.2 810.1 1189 811.1 1189.1 812.1 1189.3 813.1 1189.4 814.1 1189.6 815.1 1189.7 816.1 1189.9 817.1 1171 818.1 1171.2 819.1 1190.2 820.1 1190.4 821.1 1190.5 822.1 1190.7 823.1 1190.8 824.1 1191 825.1 1191.1 826.1 1180.8 827.1 1190.7 828.1 1190.8 829.1 1191 830.1 1191.1 831.1 1190 832.1 1191.9 833.1 1192.1 834.1 1192.2 835.1 1193.1 836.1 1191.3 837.1 1191.5 838.1 1191.6 839.1 1191.8 840.1 1184.1 841.1 1193.8 842.1 1194 843.1 1194.1 844.1 1194.3 845.1 1192 846.1 1192.1 847.1 1194.6 848.1 1194.8 849.1 1194.9 850.1 1195.1 851.1 1191.5 852.1 1194 853.1 1194.1 854.1 1194.3 855.1 1194.4 856.1 1189.7 857.1 1194.3 858.1 1194.5 859.1 1194.6 860.1 1191.4 861.1 1195.3 862.1 1195.4 863.1 1195.6 864.1 1188.8 865.1 1188.9 866.1 1197.9 867.1 1198.1 868.1 1198.2 869.1 1197.7 870.1 1197.8 871.1 1198.6 872.1 1198.7 873.1 1198.9 874.1 1194.9 875.1 1199.7 876.1 1199.9 877.1 1200 878.1 1200.2 879.1 1200.3 880.1 1199.3 881.1 1198.8 882.1 1199 883.1 1199.1 884.1 1199.3 885.1 1199.4 886.1 1197.2 887.1 1200.1 888.1 1200.3 889.1 1200.4 890.1 1200.6 891.1 1200.7 892.1 1195.9 893.1 1201.1 894.1 1201.3 895.1 1201.4 896.1 1201.6 897.1 1201.7 898.1 1201.9 899.1 1202 900.1 1202.4 901.1 1200.7 902.1 1200.8 903.1 1201 904.1 1201.1 905.1 1201.3 906.1 1192.5 907.1 1202.5 910.1 1202.5 911.1 1200.4 912.1 1200.5 913.1 1202.5 916.1 1202.5 917.1 1197.4 918.1 1197.6 919.1 1202.5 921.1 1202.5 922.1 1197.1 923.1 1202.5 926.1 1202.5 927.1 1192.3 928.1 1192.4 929.1 1202.5 947.1 1202.5 948.1 1198.6 949.1 1202.5 990.1 1202.5 991.1 1197.4 992.1 1197.6 993.1 1202.5 1544.1 1202.5 1544.1 1202.5 655.1 1202.5 654.1 1184.5 653.1 1173 652.1 1160.8 651.1 1147.9 650.1 1129.9 649.1 1116.6 648.1 1102.7 647.1 1090.3 646.1 1076.8 645.1 1064 644.1 1050 643.1 1037 642.1 1023.1 641.1 1011.6 640.1 1002.8 639.1 991.3 638.1 955.1 637.6 936.3 637.1 913.3 636.6 883.6 636.1 778 635.6 456.4 635.1 134.6 634.6 456.4 634.1 778 633.6 883.6 633.1 913.3 632.6 936.3 632.1 955.1 631.1 990 630.1 1004.8 629.1 1016.9 628.1 1027.6 627.1 1043.5 626.1 1058.6 625.1 1071.7 624.1 1083.2 623.1 1093.5 622.1 1103 621.1 1113.4 620.1 1123.2 619.1 1132.4 618.1 1142.7 617.1 1155.6 616.1 1169.9 615.1 1183.5 614.1 1202.5 241.1 1202.5Z"/>
<path fill="#ff80c0" stroke="#ff80c0" d="M240.9 1183 241.9 1182.8 242.9 1182.6 243.9 1182.4 244.9 1182.2 245.9 1182 246.9 1181.8 247.9 1171.9 248.9 1171.7 249.9 1180.8 250.9 1180.6 251.9 1180.4 252.9 1180.2 253.9 1180 254.9 1179.8 255.9 1179.6 256.9 1179.5 257.9 1179.3 258.9 1181.6 259.9 1181.4 260.9 1181.2 261.9 1178.3 262.9 1178.1 263.9 1178.3 264.9 1178.1 265.9 1177.9 266.9 1177.7 267.9 1177.5 268.9 1177.3 269.9 1177.1 270.9 1176.1 271.9 1176.9 272.9 1176.7 273.9 1176.5 274.9 1171.7 275.9 1175.2 276.9 1175 277.9 1174.8 278.9 1174.6 279.9 1174.3 280.9 1174.1 281.9 1176.2 282.9 1176 283.9 1169.3 284.9 1169.1 285.9 1168.9 286.9 1168.7 287.9 1168.5 288.9 1168.3 289.9 1175.2 290.9 1175 291.9 1173.2 292.9 1173 293.9 1172.8 294.9 1172.6 295.9 1172.6 296.9 1172.5 297.9 1168.2 298.9 1173.8 299.9 1173.8 300.9 1173.7 301.9 1173.7 302.9 1173.7 303.9 1173.6 304.9 1173.6 305.9 1171.6 306.9 1171.5 307.9 1173.1 308.9 1173.1 309.9 1173 310.9 1168.6 311.9 1168.6 312.9 1173.6 313.9 1173.6 314.9 1173.6 315.9 1173.5 316.9 1173.5 317.9 1173.5 318.9 1173.5 319.9 1168.9 320.9 1173.6 321.9 1173.6 322.9 1173.5 323.9 1173.5 324.9 1173.5 325.9 1168 326.9 1167.9 327.9 1172 328.9 1172 329.9 1172 330.9 1171.9 331.9 1171.9 332.9 1171.9 333.9 1171.8 334.9 1169.2 335.9 1171.9 336.9 1171.9 337.9 1171.9 338.9 1171.9 339.9 1171.8 340.9 1171.8 341.9 1166.6 342.9 1171.6 343.9 1171.6 344.9 1171.6 345.9 1171.6 346.9 1162.3 347.9 1162.2 348.9 1172.4 349.9 1172.4 350.9 1172.4 351.9 1172.3 352.9 1172.3 353.9 1172.3 354.9 1170.1 355.9 1169.5 356.9 1169.5 357.9 1169.5 358.9 1169.4 359.9 1169.4 360.9 1169.4 361.9 1169.3 362.9 1166.9 363.9 1166.9 364.9 1170.4 365.9 1170 366.9 1169.7 367.9 1169.4 368.9 1169 369.9 1168.7 370.9 1168.3 371.9 1168.2 372.9 1168.3 373.9 1167.9 374.9 1167.6 375.9 1167.3 376.9 1166.9 377.9 1166.6 378.9 1166.2 379.9 1162.5 380.9 1162.2 381.9 1166.2 382.9 1165.8 383.9 1165.5 384.9 1165.2 385.9 1164.8 386.9 1162.8 387.9 1164 388.9 1163.7 389.9 1163.3 390.9 1163 391.9 1154.2 392.9 1160.6 393.9 1160.2 394.9 1159.9 395.9 1159.6 396.9 1139.3 397.9 1138.9 398.9 1159.9 399.9 1159.6 400.9 1159.2 401.9 1158.9 402.9 1153.5 403.9 1153.2 404.9 1156.5 405.9 1156.2 406.9 1155.8 407.9 1155.5 408.9 1150.8 409.9 1150.5 410.9 1153.9 411.9 1153.6 412.9 1153.2 413.9 1152.9 414.9 1155.1 415.9 1154.8 416.9 1152.5 417.9 1152.1 418.9 1151.8 419.9 1151.4 420.9 1152.1 421.9 1151.7 422.9 1151 423.9 1150.7 424.9 1150.4 425.9 1150 426.9 1149.7 427.9 1149.3 428.9 1146.2 429.9 1148.8 430.9 1148.5 431.9 1148.1 432.9 1147.8 433.9 1147.5 434.9 1147.1 435.9 1146.8 436.9 1138.2 437.9 1137.9 438.9 1146.8 439.9 1146.5 440.9 1146.1 441.9 1145.8 442.9 1145.4 443.9 1145.1 444.9 1144.6 445.9 1144.2 446.9 1141.2 447.9 1140.9 448.9 1140.5 449.9 1140.2 450.9 1137.5 451.9 1141.6 452.9 1141.3 453.9 1141 454.9 1140.8 455.9 1140.5 456.9 1140.2 457.9 1139.7 458.9 1139.4 459.9 1139.1 460.9 1138.9 461.9 1124.1 462.9 1123.9 463.9 1136.9 464.9 1129.6 465.9 1128.8 466.9 1129 467.9 1127.1 468.9 1128 469.9 1129.6 470.9 1125.8 471.9 1126.5 472.9 1122.5 473.9 1121.5 474.9 1120.5 475.9 1119.8 476.9 1119.2 477.9 1120.3 478.9 1119.2 479.9 1115.1 480.9 1114.3 481.9 1116.8 482.9 1116.1 483.9 1113.1 484.9 1113.8 485.9 1108.4 486.9 1106.3 487.9 1109.3 488.9 1104.4 489.9 1104.3 490.9 1103.9 491.9 1105.4 492.9 1098.5 493.9 1098.2 494.9 1097.2 495.9 1090.7 496.9 1091.1 497.9 1076.1 498.9 1082.9 499.9 1074.3 500.9 1068.8 501.9 1071.8 502.9 1067.3 503.9 1062.3 504.9 1061.3 505.9 1054.7 506.9 1053.7 507.9 1048.7 508.9 1038 509.9 1030.1 510.9 1025.2 511.9 1012.9 512.9 1001.9 513.9 986.5 514.9 964.8 515.9 935.1 516.4 916.3 516.9 893.3 517.4 863.6 517.9 764.9 518.4 454.7 518.9 144.4 519.4 454.7 519.9 764.9 520.4 863.6 520.9 893.3 521.4 916.3 521.9 935.1 522.9 964.8 523.9 984 524.9 995.8 525.9 1005.7 526.9 1013.9 527.9 1022.1 528.9 1031.2 529.9 1037.9 530.9 1045 531.9 1055.5 532.9 1057.2 533.9 1065.2 534.9 1071.1 535.9 1073.3 536.9 1071.4 537.9 1082.3 538.9 1080.8 539.9 1087 540.9 1082.9 541.9 1087.3 542.9 1086.3 543.9 1090.5 544.9 1096.6 545.9 1093.1 546.9 1101 547.9 1101.7 548.9 1101.1 549.9 1109.6 550.9 1110.2 551.9 1110.8 552.9 1111.4 553.9 1112 554.9 1100.4 555.9 1101 556.9 1114.3 557.9 1115 558.9 1115.6 559.9 1116.2 560.9 1110.8 561.9 1116.9 562.9 1131.7 563.9 1132.1 564.9 1132.5 565.9 1133 566.9 1133.4 567.9 1133.8 568.9 1134.2 569.9 1133.9 570.9 1134.4 571.9 1135.6 572.9 1136 573.9 1136.5 574.9 1136.9 575.9 1132.7 576.9 1133.1 577.9 1140 578.9 1140.6 579.9 1141.2 580.9 1124.5 581.9 1142.3 582.9 1142.9 583.9 1138.3 584.9 1138.9 585.9 1142.3 586.9 1142.9 587.9 1143.5 588.9 1144 589.9 1145.9 590.9 1148 591.9 1144.9 592.9 1146.9 593.9 1155.4 594.9 1155.6 595.9 1155.9 596.9 1156.2 597.9 1156.5 598.9 1156.8 599.9 1155.3 600.9 1155.5 601.9 1155.8 602.9 1156.1 603.9 1156.3 604.9 1156.6 605.9 1156.9 606.9 1159.1 607.9 1157.4 608.9 1157.6 609.9 1157.7 610.9 1157.9 611.9 1158 612.9 1158.1 613.9 1158.3 614.9 1154.4 615.9 1154.5 616.9 1159.8 617.9 1159.9 618.9 1160.1 619.9 1160.2 620.9 1160.3 621.9 1156.9 622.9 1157.1 623.9 1160.4 624.9 1160.6 625.9 1160.7 626.9 1160.9 627.9 1161.5 628.9 1159.5 629.9 1159.7 630.9 1159.8 631.9 1160 632.9 1160.1 633.9 1160.2 634.9 1158.7 635.9 1158.9 636.9 1161.6 637.9 1161.6 638.9 1161.7 639.9 1161.8 640.9 1161.9 641.9 1161.9 642.9 1163.1 643.9 1161.3 644.9 1161.3 645.9 1161.4 646.9 1161.5 647.9 1161.5 648.9 1156 649.9 1150.7 650.9 1150.8 651.9 1150.8 652.9 1150.9 653.9 1151 654.9 1151 655.9 1153.4 656.9 1162.2 657.9 1162.3 658.9 1162.3 659.9 1160 660.9 1152.7 661.9 1152.8 662.9 1152.8 663.9 1155.1 664.9 1155.2 665.9 1165.6 666.9 1165.7 667.9 1165.8 668.9 1165.9 669.9 1153.8 670.9 1151.9 671.9 1152 672.9 1152.1 673.9 1152.2 674.9 1152.3 675.9 1152.4 676.9 1166.1 677.9 1166.2 678.9 1163.9 679.9 1164 680.9 1164.1 681.9 1164.2 682.9 1151.5 683.9 1151.6 684.9 1165 685.9 1165.1 686.9 1165.2 687.9 1165.3 688.9 1157 689.9 1157.1 690.9 1167.7 691.9 1167.8 692.9 1167.9 693.9 1168 694.9 1168.1 695.9 1168.2 696.9 1165.1 697.9 1165.7 698.9 1165.8 699.9 1165.9 700.9 1159.4 701.9 1159.5 702.9 1167.2 703.9 1167.3 704.9 1167.4 705.9 1167.4 706.9 1167.5 707.9 1167.3 708.9 1167.4 709.9 1167.5 710.9 1167.5 711.9 1167.6 712.9 1167.6 713.9 1167.7 714.9 1167.7 715.9 1169.7 716.9 1169.4 717.9 1169.4 718.9 1169.5 719.9 1169.5 720.9 1167.8 721.9 1167.8 722.9 1170.2 723.9 1170.2 724.9 1170.3 725.9 1170.3 726.9 1165.2 727.9 1170.5 728.9 1170.5 729.9 1170.6 730.9 1170.6 731.9 1170.6 732.9 1170.7 733.9 1151.8 734.9 1169.5 735.9 1169.5 736.9 1169.5 737.9 1169.6 738.9 1169.6 739.9 1161.5 740.9 1169.6 741.9 1169.6 742.9 1169.7 743.9 1169.7 744.9 1169.8 745.9 1169.8 746.9 1169.8 747.9 1159.1 748.9 1170.2 749.9 1170.2 750.9 1170.3 751.9 1171.7 752.9 1171 753.9 1171.1 754.9 1171.2 755.9 1171.3 756.9 1171.4 757.9 1171.5 758.9 1164.8 759.9 1164.9 760.9 1172.2 761.9 1172.3 762.9 1172.4 763.9 1172.5 764.9 1172.6 765.9 1161.4 766.9 1161.5 767.9 1171.4 768.9 1171.5 769.9 1171.6 770.9 1171.7 771.9 1171.8 772.9 1171.9 773.9 1173.7 774.9 1172.8 775.9 1172.9 776.9 1173 777.9 1173.1 778.9 1173.2 779.9 1173.3 780.9 1163.2 781.9 1163.3 782.9 1174.2 783.9 1174.3 784.9 1174.4 785.9 1174.5 786.9 1174.6 787.9 1174.7 788.9 1164.4 789.9 1174.8 790.9 1174.9 791.9 1175 792.9 1175.1 793.9 1170.4 794.9 1174.9 795.9 1175 796.9 1175.1 797.9 1175.2 798.9 1174 799.9 1174.1 800.9 1175.2 801.9 1175.2 802.9 1175.3 803.9 1171.1 804.9 1171.2 805.9 1174.5 806.9 1174.5 807.9 1174.5 808.9 1174.6 809.9 1174.6 810.9 1163.8 811.9 1163.8 812.9 1174.9 813.9 1174.9 814.9 1174.9 815.9 1176.2 816.9 1176.2 817.9 1176.5 818.9 1176.5 819.9 1176.6 820.9 1176.6 821.9 1176.6 822.9 1176.6 823.9 1176.6 824.9 1173.9 825.9 1174 826.9 1174 827.9 1174 828.9 1174.1 829.9 1174.1 830.9 1174.1 831.9 1176.7 832.9 1175.2 833.9 1175.2 834.9 1175.3 835.9 1175.3 836.9 1175.3 837.9 1175.3 838.9 1175.3 839.9 1172.9 840.9 1172.9 841.9 1176.7 842.9 1176.8 843.9 1176.8 844.9 1176.8 845.9 1176.8 846.9 1176.8 847.9 1176.9 848.9 1169.8 849.9 1169.9 850.9 1175.2 851.9 1175.2 852.9 1175.2 853.9 1175.3 854.9 1175.3 855.9 1175.3 856.9 1175.3 857.9 1168.1 858.9 1168.2 859.9 1177.2 860.9 1177.2 861.9 1177.2 862.9 1176 863.9 1177.3 864.9 1177.4 865.9 1177.4 866.9 1177.4 867.9 1177.4 868.9 1175.7 869.9 1175.8 870.9 1177.4 871.9 1177.4 872.9 1177.4 873.9 1177.5 874.9 1177.5 875.9 1172 876.9 1172.1 877.9 1177.2 878.9 1177.3 879.9 1177.3 880.9 1170.8 881.9 1175 882.9 1175 883.9 1175 884.9 1175.1 885.9 1175.1 886.9 1175.1 887.9 1175.1 888.9 1168.5 889.9 1168.5 890.9 1178.1 891.9 1178.2 892.9 1178.2 893.9 1178.2 894.9 1178.2 895.9 1178.2 896.9 1166.3 897.9 1177.4 898.9 1177.4 899.9 1177.5 900.9 1176.9 901.9 1176.9 902.9 1177.9 903.9 1177.9 904.9 1177.9 905.9 1178.2 906.9 1177.9 907.9 1177.9 908.9 1177.9 909.9 1177.9 910.9 1173.4 911.9 1178.4 912.9 1178.4 913.9 1178.4 914.9 1178.4 915.9 1166.2 916.9 1166.2 917.9 1177.5 918.9 1177.5 919.9 1177.5 920.9 1177.5 921.9 1177.5 922.9 1172.6 923.9 1177.9 924.9 1177.9 925.9 1177.9 926.9 1177.9 927.9 1178 928.9 1178 929.9 1178 930.9 1167.3 931.9 1176.1 932.9 1176.1 933.9 1176.1 934.9 1176.2 935.9 1176.2 936.9 1173.4 937.9 1173.5 938.9 1178.9 939.9 1178.9 940.9 1178.9 941.9 1178.9 942.9 1178.9 943.9 1171.1 944.9 1178.1 945.9 1178.1 946.9 1178.1 947.9 1178.1 948.9 1178.1 949.9 1177.8 950.9 1177.8 951.9 1177.7 952.9 1177.7 953.9 1177.7 954.9 1177.8 955.9 1177.8 956.9 1177.8 957.9 1177.8 958.9 1170.2 959.9 1170.2 960.9 1177.1 961.9 1177.1 962.9 1177.2 963.9 1177.2 964.9 1177.2 965.9 1177.2 966.9 1178.4 967.9 1178.4 968.9 1176.3 969.9 1176.3 970.9 1176.3 971.9 1173.8 972.9 1173.8 973.9 1176.3 974.9 1176.4 975.9 1176.4 976.9 1174.7 977.9 1176.4 978.9 1176.4 979.9 1176.4 980.9 1176.4 981.9 1176.4 982.9 1160.8 983.9 1160.8 984.9 1179.3 985.9 1179.3 986.9 1179.3 987.9 1179.3 988.9 1179.3 989.9 1179.3 990.9 1168.1 991.9 1168.2 992.9 1177.4 993.9 1177.4 994.9 1177.4 995.9 1177.4 996.9 1177.4 997.9 1172.7 998.9 1172.7 999.9 1179.5 1000.9 1179.6 1001.9 1179.7 1002.9 1179.8 1003.9 1179.9 1004.9 1172.5 1005.9 1172.6 1006.9 1178.3 1007.9 1178.4 1008.9 1178.5 1009.9 1178.6 1010.9 1178.7 1011.9 1178.8 1012.9 1169.9 1013.9 1179.8 1014.9 1179.9 1015.9 1180 1016.9 1180.1 1017.9 1180.8 1018.9 1179.1 1019.9 1179.2 1020.9 1179.3 1021.9 1179.4 1022.9 1179.5 1023.9 1179.6 1024.9 1168 1025.9 1181.2 1026.9 1181.3 1027.9 1181.4 1028.9 1181.5 1029.9 1181.6 1030.9 1185.2 1031.9 1189.2 1032.9 1186 1033.9 1192.4 1034.9 1192.8 1035.9 1192.8 1036.9 1192.8 1037.9 1192.8 1038.9 1192.8 1039.9 1198.3 1040.9 1198.3 1041.9 1195.3 1042.9 1195.3 1043.9 1195.3 1044.9 1195.3 1045.9 1195.3 1046.9 1187.5 1047.9 1196 1048.9 1196 1049.9 1196 1050.9 1195.1 1051.9 1194.1 1052.9 1193.1 1053.9 1192.1 1054.9 1188.2 1055.9 1191.6 1056.9 1190.6 1057.9 1189.6 1058.9 1189.4 1059.9 1189.4 1060.9 1189.4 1061.9 1189.3 1062.9 1188.7 1063.9 1188.6 1064.9 1190.2 1065.9 1190.2 1066.9 1190.2 1067.9 1190.2 1068.9 1190.1 1069.9 1190.1 1070.9 1190.1 1071.9 1180.2 1072.9 1189.4 1073.9 1189.4 1074.9 1189.4 1075.9 1189.3 1076.9 1189.3 1077.9 1189.3 1078.9 1189.3 1079.9 1180.7 1080.9 1180.6 1081.9 1189.7 1082.9 1189.7 1083.9 1189.6 1084.9 1187.3 1085.9 1188.5 1086.9 1188.5 1087.9 1188.4 1088.9 1188.4 1089.9 1188.4 1090.9 1188.4 1091.9 1188.3 1092.9 1186.9 1093.9 1188.6 1094.9 1193.7 1095.9 1195.3 1096.9 1197 1097.9 1198.6 1098.9 1200.2 1099.9 1201.8 1100.9 1193.2 1101.9 1202.5 1105.9 1202.5 1106.9 1197.8 1107.9 1198.2 1108.9 1202.5 1110.9 1202.5 1111.9 1200.9 1112.9 1201.3 1113.9 1202.5 1115.9 1202.5 1116.9 1201 1117.9 1202.5 1130.9 1202.5 1131.9 1200.9 1132.9 1202.5 1544.9 1202.5 1544.9 1202.5 541.9 1202.5 540.9 1185.3 539.9 1175.6 538.9 1165.5 537.9 1154.8 536.9 1140.2 535.9 1128.7 534.9 1121 533.9 1112.7 532.9 1103.9 531.9 1091.5 530.9 1078.2 529.9 1065.2 528.9 1051.4 527.9 1038.3 526.9 1024.5 525.9 1011.6 524.9 998.8 523.9 984.6 522.9 964.8 521.9 935.1 521.4 916.3 520.9 893.3 520.4 863.6 519.9 764.9 519.4 454.7 518.9 144.4 518.4 454.7 517.9 764.9 517.4 863.6 516.9 893.3 516.4 916.3 515.9 935.1 514.9 964.8 513.9 986.5 512.9 1001.9 511.9 1013.3 510.9 1028.8 509.9 1042.1 508.9 1055.7 507.9 1069.1 506.9 1080.8 505.9 1090.9 504.9 1100.3 503.9 1110.4 502.9 1120.8 501.9 1130.5 500.9 1138.6 499.9 1146 498.9 1153 497.9 1163.9 496.9 1174.7 495.9 1185 494.9 1202.5 240.9 1202.5Z"/>
<path fill="#00cdcd" stroke="#00cdcd" d="M241 1190.1 242 1190 243 1190 244 1190 245 1190 246 1190 247 1188.9 248 1191.8 249 1191.8 250 1191.8 251 1191.8 252 1191.8 253 1191.8 254 1191.8 255 1189.6 256 1189.6 257 1189.2 258 1189.1 259 1189.1 260 1186.8 261 1190.9 262 1190.9 263 1190.9 264 1181 265 1189.3 266 1189.3 267 1189.3 268 1189.3 269 1189.3 270 1180.6 271 1191.9 272 1191.9 273 1191.9 274 1191.9 275 1191.9 276 1178.9 277 1189.8 278 1189.8 279 1189.8 280 1189.7 281 1189.7 282 1189.7 283 1189.7 284 1173 285 1173 286 1189.2 287 1189.2 288 1189.2 289 1189.2 290 1189.2 291 1189.1 292 1180.2 293 1188.8 294 1188.8 295 1188.8 296 1183.9 297 1183.8 298 1191.3 299 1191.2 300 1191.2 301 1191.2 302 1175.1 303 1175.1 304 1191.4 305 1191.4 306 1191.4 307 1191.4 308 1191.4 309 1191.4 310 1187.8 311 1190.8 312 1190.8 313 1173.5 314 1190.8 315 1190.8 316 1188.5 317 1188.5 318 1189 319 1189 320 1189 321 1189 322 1189 323 1180.3 324 1188.6 325 1174.5 326 1188.6 327 1188.6 328 1188.6 329 1188.6 330 1184.2 331 1189.1 332 1189.1 333 1189.1 334 1189.1 335 1190.4 336 1190.6 337 1190.6 338 1190.6 339 1190.6 340 1158.5 341 1190.2 342 1190.2 343 1190.2 344 1190.2 345 1190.2 346 1190.2 347 1190.2 348 1185.9 349 1189.1 350 1189.1 351 1189.1 352 1163.5 353 1189.1 354 1189.1 355 1189.3 356 1189.3 357 1188.8 358 1188.8 359 1188.8 360 1188.8 361 1182.4 362 1191.4 363 1191.4 364 1191.4 365 1191.4 366 1189.8 367 1183.7 368 1183.9 369 1182.3 370 1180.7 371 1179.1 372 1177.6 373 1176.1 374 1163.2 375 1161.7 376 1174.5 377 1173 378 1171.5 379 1170 380 1168.5 381 1167.8 382 1165.6 383 1164.9 384 1164.3 385 1163.6 386 1162.9 387 1162.3 388 1161.6 389 1161.7 390 1161 391 1161.1 392 1160.4 393 1159.7 394 1159.1 395 1158.4 396 1151.6 397 1144.8 398 1136.9 399 1130.1 400 1121.9 401 1121.9 402 1121.9 403 1121.9 404 1107.1 405 1111.8 406 1109.4 407 1108.8 408 1108.6 409 1103.9 410 1100.7 411 1100.5 412 1088 413 1086.5 414 1084.8 415 1073.9 416 1067.3 417 1052.5 418 1044.2 419 1037.9 420 1015.3 420.5 994.9 421 972.3 421.5 942.6 422 822 422.5 475.2 423 128.5 423.5 475.2 424 822 424.5 942.6 425 972.3 425.5 995.1 426 1013.1 427 1038.1 428 1045.2 429 1050.8 430 1066.3 431 1068.8 432 1078.8 433 1085.7 434 1094.6 435 1096 436 1101.6 437 1101.3 438 1105.7 439 1110.9 440 1114.7 441 1117.1 442 1119.9 443 1125.4 444 1130.1 445 1131.8 446 1129.8 447 1133.5 448 1135 449 1136.7 450 1133.8 451 1133.2 452 1136.9 453 1137.8 454 1138.7 455 1128.8 456 1129.7 457 1140.4 458 1141.3 459 1142 460 1142.7 461 1143.4 462 1144.2 463 1137.9 464 1145.3 465 1146 466 1146.7 467 1147.4 468 1148.1 469 1148.9 470 1149.6 471 1142.3 472 1151.4 473 1152.2 474 1152.9 475 1153.6 476 1143.4 477 1144.1 478 1155.3 479 1156 480 1156.8 481 1157.5 482 1158.2 483 1158.9 484 1151.7 485 1160.2 486 1160.9 487 1161.6 488 1162.3 489 1165.3 490 1166 491 1163.9 492 1164.6 493 1165.3 494 1166 495 1166.7 496 1161.2 497 1171.2 498 1171.9 499 1172.6 500 1173.3 501 1165 502 1165.3 503 1172.2 504 1172.4 505 1172.7 506 1169.5 507 1174.7 508 1174.9 509 1175.2 510 1175.5 511 1170.3 512 1176.4 513 1176.7 514 1177 515 1177.3 516 1177.5 517 1177.8 518 1174.2 519 1176.9 520 1177.2 521 1177.4 522 1177.7 523 1178 524 1178.3 525 1178.5 526 1172 527 1172.2 528 1179.6 529 1179.9 530 1180.2 531 1180.5 532 1180.7 533 1181 534 1171.6 535 1171.8 536 1180.6 537 1180.8 538 1181.1 539 1172.6 540 1172.9 541 1182.8 542 1182.8 543 1182.8 544 1182.9 545 1182.9 546 1182.9 547 1183 548 1182.3 549 1182.3 550 1184.7 551 1184.7 552 1184.7 553 1184.8 554 1184.8 555 1178.1 556 1178.2 557 1183.5 558 1183.5 559 1183.5 560 1183.6 561 1183.6 562 1183.6 563 1185.1 564 1185.1 565 1184.9 566 1184.9 567 1184.9 568 1184.9 569 1185 570 1172.8 571 1172.8 572 1183 573 1183.1 574 1183.1 575 1183.1 576 1183.2 577 1183.2 578 1174 579 1174 580 1184.7 581 1184.8 582 1184.8 583 1184.8 584 1184.8 585 1184.9 586 1184.9 587 1181 588 1184.1 589 1184.1 590 1184.1 591 1184.2 592 1184.2 593 1184.2 594 1184.2 595 1181.6 596 1185.9 597 1186 598 1186 599 1186 600 1186 601 1186.1 602 1180.9 603 1180.9 604 1184.2 605 1184.2 606 1184.3 607 1184.3 608 1184.3 609 1184.3 610 1184.4 611 1182.6 612 1182.6 613 1173.2 614 1173.2 615 1173.3 616 1173.3 617 1173.3 618 1173.3 619 1174.6 620 1186.6 621 1186.6 622 1186.6 623 1182.2 624 1182.2 625 1185 626 1185 627 1185 628 1185.1 629 1185.1 630 1185.1 631 1185.2 632 1182.5 633 1182.5 634 1183.8 635 1183.9 636 1183.9 637 1183.9 638 1183.9 639 1184.1 640 1184.1 641 1184.3 642 1184.4 643 1184.4 644 1184.4 645 1183.7 646 1184.5 647 1184.5 648 1184.6 649 1184.6 650 1184.6 651 1184.6 652 1184.7 653 1186.7 654 1186.7 655 1184.9 656 1184.9 657 1184.9 658 1185 659 1185 660 1185 661 1177.2 662 1177.2 663 1186.1 664 1186.2 665 1186.2 666 1186.2 667 1186.3 668 1186.3 669 1186.3 670 1184.8 671 1186.9 672 1187 673 1187 674 1187 675 1187 676 1187.1 677 1187.1 678 1187.1 679 1187.1 680 1187.5 681 1187.6 682 1187.6 683 1187.6 684 1187.6 685 1187.7 686 1187.7 687 1182.5 688 1182.6 689 1187 690 1187 691 1187.2 692 1187.4 693 1183.8 694 1186.5 695 1186.7 696 1186.9 697 1187.1 698 1187.3 699 1187.5 700 1188.5 701 1188.3 702 1188.5 703 1188.7 704 1180.4 705 1180.6 706 1190.8 707 1191 708 1191.2 709 1191.4 710 1191.6 711 1191.8 712 1192.5 713 1192.7 714 1186.2 715 1186.4 716 1186.6 717 1186.8 718 1187 719 1185.4 720 1193.1 721 1193.2 722 1193.2 723 1193.3 724 1193.3 725 1193.4 726 1193.4 727 1183 728 1194.3 729 1194.3 730 1194.4 731 1186.2 732 1186.2 733 1193.2 734 1193.3 735 1193.3 736 1193.4 737 1191.2 738 1191.2 739 1186.7 740 1186.8 741 1186.8 742 1186.9 743 1186.9 744 1187 745 1194.9 746 1194.9 747 1195.1 748 1195.1 749 1195.2 750 1190.4 751 1192.9 752 1193 753 1193 754 1193.1 755 1193.1 756 1193.2 757 1193.2 758 1187 759 1187.1 760 1196.4 761 1196.4 762 1196.5 763 1196.5 764 1196.6 765 1196.6 766 1196.7 767 1189.4 768 1189.5 769 1196.6 770 1196.7 771 1196.7 772 1196.8 773 1196.8 774 1196.9 775 1196.9 776 1193.1 777 1184.9 778 1185 779 1185 780 1185.1 781 1185.1 782 1185.1 783 1185.1 784 1194.9 785 1197.4 786 1197.4 787 1197.5 788 1185.8 789 1197.2 790 1197.2 791 1197.3 792 1190.9 793 1197.2 794 1197.2 795 1197.2 796 1197.3 797 1197.3 798 1185.8 799 1185.8 800 1195.7 801 1195.7 802 1195.7 803 1195.8 804 1195.8 805 1195.8 806 1188.2 807 1198 808 1198 809 1198 810 1198 811 1198.1 812 1194.5 813 1194.5 814 1195.7 815 1195.7 816 1195.7 817 1195.7 818 1195.8 819 1195.8 820 1181.7 821 1198.3 822 1198.3 823 1198.4 824 1198.4 825 1198.4 826 1198.4 827 1187.9 828 1187.9 829 1198.1 830 1198.1 831 1198.1 832 1191.9 833 1191.9 834 1198.4 835 1198.4 836 1198.5 837 1198.5 838 1197.9 839 1197.9 840 1197.6 841 1197.6 842 1197.7 843 1197.7 844 1191.5 845 1191.5 846 1196.8 847 1196.8 848 1196.8 849 1196.9 850 1187.3 851 1197.8 852 1197.8 853 1197.8 854 1197.9 855 1197.9 856 1197.9 857 1191.1 858 1198.6 859 1198.7 860 1198.7 861 1188.2 862 1188.2 863 1198.7 864 1198.7 865 1198.7 866 1198.7 867 1198.8 868 1198.8 869 1199.5 870 1199.2 871 1199.3 872 1199.3 873 1199.3 874 1199.3 875 1198.6 876 1198.6 877 1198 878 1198 879 1198.1 880 1198.1 881 1198.1 882 1198.6 883 1198.8 884 1198.8 885 1198.9 886 1198.9 887 1198.9 888 1196.8 889 1197.8 890 1197.8 891 1197.8 892 1197.8 893 1197.9 894 1197.9 895 1197.4 896 1197.5 897 1199.8 898 1199.9 899 1199.9 900 1199.9 901 1200 902 1197.7 903 1197.7 904 1200.2 905 1200.3 906 1200.3 907 1200.3 908 1200.4 909 1200.4 910 1193.1 911 1199.4 912 1199.5 913 1199.5 914 1199.6 915 1199.6 916 1199.6 917 1199.7 918 1192.8 919 1192.9 920 1201.1 921 1201.1 922 1201.1 923 1201.2 924 1191.5 925 1191.5 926 1200 927 1200 928 1200.1 929 1200.1 930 1200.1 931 1189.1 932 1189.2 933 1198.6 934 1198.7 935 1198.7 936 1198.7 937 1201.9 938 1201.9 939 1200.3 940 1200.3 941 1200.4 942 1200.4 943 1200.5 944 1200.5 945 1199.8 946 1200.2 947 1200.3 948 1200.3 949 1200.4 950 1200.4 951 1201.5 952 1201.3 953 1201.5 954 1201.7 955 1194.2 956 1202.2 957 1202.4 958 1202.5 959 1202.5 960 1201.6 961 1202.5 964 1202.5 965 1193.8 966 1202.5 982 1202.5 983 1197.6 984 1198.3 985 1198.5 986 1198.8 987 1202.5 1545 1202.5 1545 1202.5 435 1202.5 434 1181.2 433 1162.5 432 1141.7 431 1119.3 430 1083.8 429 1061.1 428 1045.2 427 1038.1 426 1014.1 425.5 995.3 425 972.3 424.5 942.6 424 822 423.5 475.2 423 128.5 422.5 475.2 422 822 421.5 942.6 421 972.3 420.5 995.3 420 1015.3 419 1037.9 418 1045.6 417 1064 416 1085.4 415 1107.6 414 1131 413 1157.1 412 1179.5 411 1202.5 241 1202.5Z"/>
<path fill="#027dbc" stroke="#027dbc" d="M240.4 1148.8 241.4 1148.2 242.4 1147.7 243.4 1140 244.4 1145.4 245.4 1144.9 246.4 1144.3 247.4 1143.7 248.4 1143.2 249.4 1142.6 250.4 1138.5 251.4 1139.9 252.4 1139.3 253.4 1138.7 254.4 1138.1 255.4 1137.4 256.4 1138.3 257.4 1137.7 258.4 1136.7 259.4 1136.7 260.4 1136.7 261.4 1136.8 262.4 1132.4 263.4 1128.1 264.4 1127 265.4 1127.9 266.4 1129.2 267.4 1123.5 268.4 1128.1 269.4 1121.2 270.4 1119.9 271.4 1118.6 272.4 1123.5 273.4 1118.3 274.4 1114 275.4 1117.6 276.4 1110.7 277.4 1117.2 278.4 1111.2 279.4 1109.1 280.4 1104.2 281.4 1107.6 282.4 1107.8 283.4 1101.8 284.4 1105.5 285.4 1102.2 286.4 1100.4 287.4 1097 288.4 1098.5 289.4 1096.4 290.4 1094.4 291.4 1093.2 292.4 1090 293.4 1092.3 294.4 1090.2 295.4 1092.6 296.4 1090.1 297.4 1088.3 298.4 1087.1 299.4 1083.4 300.4 1084.1 301.4 1079.8 302.4 1076.3 303.4 1079.7 304.4 1076.7 305.4 1071.3 306.4 1072.6 307.4 1067.5 308.4 1059 309.4 1056.6 310.4 1047.5 311.4 1045.9 312.4 1039.6 313.4 1037.2 314.4 1031.2 315.4 1022.6 316.4 1017.3 317.4 1009.3 318.4 1003.1 319.4 994 320.4 986.1 321.4 978.8 322.4 963.6 323.4 944.8 324.4 921.8 325.4 892.1 325.9 873.3 326.4 850.3 326.9 820.6 327.4 733 327.9 441.3 328.4 149.5 328.9 441.3 329.4 733 329.9 820.6 330.4 850.3 330.9 873.3 331.4 892.1 332.4 921.8 333.4 944.8 334.4 963.6 335.4 978.8 336.4 986.1 337.4 994.5 338.4 1004.5 339.4 1013.9 340.4 1021.7 341.4 1026.8 342.4 1030.6 343.4 1033.4 344.4 1039.9 345.4 1040.9 346.4 1048 347.4 1051.1 348.4 1051 349.4 1053.4 350.4 1057.1 351.4 1061.2 352.4 1068.7 353.4 1063.9 354.4 1071.2 355.4 1070.3 356.4 1072.6 357.4 1081.7 358.4 1076.8 359.4 1087 360.4 1083.8 361.4 1089.1 362.4 1092.3 363.4 1089.7 364.4 1094.6 365.4 1090.8 366.4 1095.5 367.4 1098.7 368.4 1101.6 369.4 1097.7 370.4 1099.6 371.4 1099.4 372.4 1105.2 373.4 1101.6 374.4 1112.7 375.4 1104.5 376.4 1107.6 377.4 1118.4 378.4 1110.8 379.4 1121.1 380.4 1115.5 381.4 1123.4 382.4 1119.6 383.4 1119.8 384.4 1127.6 385.4 1127.7 386.4 1123.8 387.4 1128.5 388.4 1132.4 389.4 1141.4 390.4 1141.4 391.4 1141.1 392.4 1141.1 393.4 1140.2 394.4 1140.4 395.4 1140.7 396.4 1141 397.4 1141.3 398.4 1141.6 399.4 1141.9 400.4 1132.4 401.4 1140.9 402.4 1141.2 403.4 1141.5 404.4 1141.8 405.4 1142.1 406.4 1142.5 407.4 1142.8 408.4 1142.1 409.4 1143.5 410.4 1144 411.4 1144.7 412.4 1145.4 413.4 1146.1 414.4 1146.8 415.4 1147.5 416.4 1139.2 417.4 1139.9 418.4 1151.4 419.4 1152.1 420.4 1152.8 421.4 1153.5 422.4 1154.3 423.4 1155 424.4 1147.6 425.4 1156.2 426.4 1156.7 427.4 1157.2 428.4 1157.7 429.4 1158.2 430.4 1158.3 431.4 1158.8 432.4 1159 433.4 1159.5 434.4 1160 435.4 1160.5 436.4 1161 437.4 1161.5 438.4 1161.9 439.4 1163.1 440.4 1163.3 441.4 1162.2 442.4 1162.5 443.4 1162.7 444.4 1162.9 445.4 1163.1 446.4 1163.3 447.4 1163.5 448.4 1155.6 449.4 1163 450.4 1163.2 451.4 1163.4 452.4 1163.6 453.4 1163.8 454.4 1163.9 455.4 1162 456.4 1166.8 457.4 1167 458.4 1167.1 459.4 1167.2 460.4 1167.4 461.4 1167.5 462.4 1156.4 463.4 1165.3 464.4 1165.4 465.4 1165.5 466.4 1155.9 467.4 1166.8 468.4 1167 469.4 1167.1 470.4 1167.2 471.4 1167.4 472.4 1167.5 473.4 1167.7 474.4 1161.5 475.4 1161.6 476.4 1168.8 477.4 1169 478.4 1169.1 479.4 1169.3 480.4 1168.7 481.4 1169.8 482.4 1170 483.4 1170.2 484.4 1170.3 485.4 1162.5 486.4 1170.6 487.4 1170.7 488.4 1170.9 489.4 1171.1 490.4 1171.2 491.4 1171.4 492.4 1171.6 493.4 1164.2 494.4 1164.2 495.4 1171.2 496.4 1171.2 497.4 1171.3 498.4 1167.8 499.4 1169.6 500.4 1169.7 501.4 1169.7 502.4 1169.8 503.4 1169.8 504.4 1171.5 505.4 1171.5 506.4 1171.7 507.4 1171.7 508.4 1171.8 509.4 1171.8 510.4 1171.9 511.4 1171.9 512.4 1172 513.4 1171.9 514.4 1170.4 515.4 1170.4 516.4 1170.5 517.4 1170.5 518.4 1170.6 519.4 1170.6 520.4 1168.2 521.4 1172.8 522.4 1172.9 523.4 1172.9 524.4 1172.3 525.4 1172.1 526.4 1172.2 527.4 1172.2 528.4 1172.3 529.4 1172.3 530.4 1169.8 531.4 1173.9 532.4 1173.9 533.4 1173.9 534.4 1174 535.4 1174 536.4 1174.1 537.4 1174.2 538.4 1173.4 539.4 1173.4 540.4 1173.5 541.4 1173.5 542.4 1167.8 543.4 1167.9 544.4 1173.2 545.4 1173.3 546.4 1173.3 547.4 1173.4 548.4 1173.4 549.4 1173.5 550.4 1163.6 551.4 1163.6 552.4 1164 553.4 1164.1 554.4 1164.1 555.4 1164.2 556.4 1164.2 557.4 1164.3 558.4 1163.4 559.4 1173 560.4 1173 561.4 1173.1 562.4 1173.1 563.4 1173.2 564.4 1173.2 565.4 1173.3 566.4 1170.5 567.4 1174.4 568.4 1174.4 569.4 1174.5 570.4 1174.5 571.4 1171.8 572.4 1175 573.4 1175.1 574.4 1175.1 575.4 1176 576.4 1176 577.4 1173.9 578.4 1173.9 579.4 1174 580.4 1174.1 581.4 1176.5 582.4 1176.6 583.4 1176.6 584.4 1176.7 585.4 1176.7 586.4 1176.8 587.4 1176.8 588.4 1171.7 589.4 1171.8 590.4 1174.8 591.4 1174.9 592.4 1174.9 593.4 1175 594.4 1175 595.4 1175.1 596.4 1175.1 597.4 1172.6 598.4 1176.5 599.4 1176.5 600.4 1176.6 601.4 1176.6 602.4 1176.7 603.4 1169.8 604.4 1177.4 605.4 1177.4 606.4 1177.5 607.4 1177.8 608.4 1177.9 609.4 1176.2 610.4 1176.3 611.4 1176.3 612.4 1172 613.4 1172.1 614.4 1175.5 615.4 1175.5 616.4 1175.6 617.4 1173.8 618.4 1176 619.4 1176 620.4 1176.1 621.4 1176.1 622.4 1176.2 623.4 1176.2 624.4 1176.3 625.4 1178.7 626.4 1178.8 627.4 1178.8 628.4 1178.9 629.4 1178.9 630.4 1172 631.4 1178.5 632.4 1178.6 633.4 1178.6 634.4 1178.7 635.4 1178.7 636.4 1178.8 637.4 1178.9 638.4 1179.1 639.4 1179.2 640.4 1179.2 641.4 1179.3 642.4 1179.3 643.4 1175.7 644.4 1178.8 645.4 1178.9 646.4 1178.9 647.4 1161.7 648.4 1161.7 649.4 1177.2 650.4 1177.2 651.4 1177.3 652.4 1176.2 653.4 1179.7 654.4 1179.8 655.4 1179.8 656.4 1179.9 657.4 1179.9 658.4 1173.7 659.4 1180.5 660.4 1180.5 661.4 1180.6 662.4 1180.6 663.4 1180.7 664.4 1180.7 665.4 1176.6 666.4 1176.7 667.4 1180.1 668.4 1180.1 669.4 1180.2 670.4 1180.2 671.4 1180.3 672.4 1180.3 673.4 1180.4 674.4 1177.1 675.4 1181.2 676.4 1181.2 677.4 1181.3 678.4 1181.3 679.4 1181.4 680.4 1181.4 681.4 1181.5 682.4 1175.2 683.4 1179.8 684.4 1179.9 685.4 1179.9 686.4 1172.6 687.4 1172.7 688.4 1178.8 689.4 1178.9 690.4 1178.9 691.4 1179 692.4 1179 693.4 1179.1 694.4 1179.1 695.4 1178.5 696.4 1178.6 697.4 1180.4 698.4 1180.5 699.4 1180.5 700.4 1180.7 701.4 1181 702.4 1181.3 703.4 1178.8 704.4 1183.5 705.4 1183.8 706.4 1184.1 707.4 1184.5 708.4 1184.8 709.4 1174.3 710.4 1174.7 711.4 1184 712.4 1184.5 713.4 1185.3 714.4 1186.1 715.4 1186.8 716.4 1177.8 717.4 1188.1 718.4 1188.9 719.4 1189.6 720.4 1190.4 721.4 1191.2 722.4 1191.9 723.4 1183.5 724.4 1195.8 725.4 1196.3 726.4 1196.4 727.4 1196.6 728.4 1196.7 729.4 1196.9 730.4 1197.2 731.4 1196.9 732.4 1197.1 733.4 1197.2 734.4 1197.4 735.4 1193.5 736.4 1196.1 737.4 1196.2 738.4 1196.3 739.4 1196.5 740.4 1196.6 741.4 1196.8 742.4 1196.9 743.4 1194.3 744.4 1194.4 745.4 1198 746.4 1198.1 747.4 1198.2 748.4 1198.4 749.4 1198.5 750.4 1198.7 751.4 1190.9 752.4 1200.3 753.4 1200.4 754.4 1200.6 755.4 1200.7 756.4 1192.8 757.4 1193 758.4 1201.2 759.4 1201.3 760.4 1201.4 761.4 1201.4 762.4 1201.5 763.4 1201.5 764.4 1201.5 765.4 1199.2 766.4 1199.4 767.4 1199.5 768.4 1199.5 769.4 1199.5 770.4 1193.5 771.4 1200.6 772.4 1200.7 773.4 1200.7 774.4 1200.7 775.4 1200.7 776.4 1198.9 777.4 1199.3 778.4 1199.3 779.4 1199.3 780.4 1199.3 781.4 1199.4 782.4 1199.2 783.4 1199.2 784.4 1202 785.4 1202 786.4 1202 787.4 1202 788.4 1199.7 789.4 1199.7 790.4 1202.1 791.4 1202.1 792.4 1202.2 793.4 1202.2 794.4 1202.2 795.4 1192.2 796.4 1202 797.4 1202 798.4 1202.1 799.4 1202.1 800.4 1202.1 801.4 1202.1 802.4 1202.1 803.4 1189.8 804.4 1201.9 805.4 1202 806.4 1202 807.4 1202 808.4 1202 809.4 1202.1 810.4 1199.4 811.4 1200.9 812.4 1200.9 813.4 1200.9 814.4 1201 815.4 1201 816.4 1201 817.4 1201 818.4 1199.6 819.4 1199.6 820.4 1201.8 821.4 1201.8 822.4 1201.8 823.4 1201.8 824.4 1201.9 825.4 1201.9 826.4 1201.9 827.4 1202.1 828.4 1201.9 829.4 1201.9 830.4 1202 831.4 1202.5 836.4 1202.5 837.4 1191.6 838.4 1202.5 839.4 1202.5 844.4 1202.5 845.4 1200.6 846.4 1201.3 847.4 1201.3 848.4 1201.4 849.4 1192.2 850.4 1192.2 851.4 1202.5 854.4 1202.5 855.4 1199.5 856.4 1199.5 857.4 1201.4 858.4 1201.4 859.4 1201.5 860.4 1201.5 861.4 1193.8 862.4 1193.9 863.4 1201.9 864.4 1201.9 865.4 1201.9 866.4 1202.1 867.4 1202.2 868.4 1202.5 874.4 1202.5 875.4 1194.7 876.4 1194.7 877.4 1201.9 878.4 1201.9 879.4 1201.9 880.4 1201.9 881.4 1202 882.4 1202 883.4 1202 884.4 1192.8 885.4 1192.8 886.4 1201.8 887.4 1201.8 888.4 1201.8 889.4 1201.9 890.4 1201.9 891.4 1199.7 892.4 1199.7 893.4 1202.5 897.4 1202.5 898.4 1193.2 899.4 1197.4 900.4 1197.5 901.4 1197.6 902.4 1197.7 903.4 1197.8 904.4 1198.2 905.4 1198.3 906.4 1202.5 908.4 1202.5 909.4 1201.2 910.4 1202.5 915.4 1202.5 916.4 1199.3 917.4 1202.5 921.4 1202.5 922.4 1197.9 923.4 1198 924.4 1202.5 929.4 1202.5 930.4 1196.6 931.4 1196.7 932.4 1202.5 958.4 1202.5 959.4 1198.7 960.4 1198.8 961.4 1202.5 1009.4 1202.5 1010.4 1202.5 1011.4 1202.5 1544.4 1202.5 1544.4 1202.5 371.4 1202.5 370.4 1195.8 369.4 1188.3 368.4 1184.6 367.4 1180.8 366.4 1176.9 365.4 1173 364.4 1168.9 363.4 1164.7 362.4 1160.3 361.4 1155.4 360.4 1150.3 359.4 1145.2 358.4 1140.4 357.4 1135.5 356.4 1130.4 355.4 1125.4 354.4 1120.2 353.4 1115.3 352.4 1110.5 351.4 1105.5 350.4 1099.5 349.4 1093.1 348.4 1086.3 347.4 1079.1 346.4 1072.5 345.4 1066.3 344.4 1059.8 343.4 1052.9 342.4 1045.6 341.4 1038.4 340.4 1030.6 339.4 1022.1 338.4 1011 337.4 997.4 336.4 986.5 335.4 978.8 334.4 963.6 333.4 944.8 332.4 921.8 331.4 892.1 330.9 873.3 330.4 850.3 329.9 820.6 329.4 733 328.9 441.3 328.4 149.5 327.9 441.3 327.4 733 326.9 820.6 326.4 850.3 325.9 873.3 325.4 892.1 324.4 921.8 323.4 944.8 322.4 963.6 321.4 978.8 320.4 986.1 319.4 994 318.4 1003.1 317.4 1014.8 316.4 1026 315.4 1036 314.4 1045.2 313.4 1054.1 312.4 1062.4 311.4 1070.2 310.4 1077.3 309.4 1083.5 308.4 1089.4 307.4 1095 306.4 1100.3 305.4 1105.5 304.4 1110.7 303.4 1115.7 302.4 1120.7 301.4 1125.7 300.4 1130.5 299.4 1135.6 298.4 1140.7 297.4 1145.6 296.4 1150.6 295.4 1155.6 294.4 1160.3 293.4 1168.3 292.4 1176.4 291.4 1184.4 290.4 1193.9 289.4 1202.5 240.4 1202.5Z"/>
</g>
<g font-family="Liberation Serif, Times New Roman, serif" font-weight="bold" font-size="69" fill="#222222">
<text x="220.5" y="74.1" text-anchor="end" font-size="69.5">20</text>
<text x="220.5" y="192.8" text-anchor="end" font-size="69.5">10</text>
<text x="220.5" y="311.5" text-anchor="end" font-size="69.5">0</text>
<text x="220.5" y="430.2" text-anchor="end" font-size="69.5">−10</text>
<text x="220.5" y="548.9" text-anchor="end" font-size="69.5">−20</text>
<text x="220.5" y="667.7" text-anchor="end" font-size="69.5">−30</text>
<text x="220.5" y="786.4" text-anchor="end" font-size="69.5">−40</text>
<text x="220.5" y="905.1" text-anchor="end" font-size="69.5">−50</text>
<text x="220.5" y="1023.8" text-anchor="end" font-size="69.5">−60</text>
<text x="220.5" y="1142.5" text-anchor="end" font-size="69.5">−70</text>
<text x="242.8" y="1274.6" text-anchor="middle">1540</text>
<text x="589.2" y="1274.6" text-anchor="middle">1560</text>
<text x="935.7" y="1274.6" text-anchor="middle">1580</text>
<text x="1282.1" y="1274.6" text-anchor="middle">1600</text>
</g>
<text x="893.5" y="1363.2" text-anchor="middle" font-family="Liberation Serif, Times New Roman, serif" font-weight="bold" font-size="74.4" fill="#000">Wavelength (nm)</text>
<text transform="translate(86,620.5) rotate(-90)" x="0" y="0" text-anchor="middle" font-family="Liberation Serif, Times New Roman, serif" font-weight="bold" font-size="73.7" fill="#000">Output Power (dbm)</text>
<rect x="1581.5" y="261" width="430" height="709.5" fill="#fff" stroke="#1e1e1e" stroke-width="4"/>
<g font-family="Liberation Serif, Times New Roman, serif" font-size="57.6" fill="#000">
<path d="M1596 302.5H1740" stroke="#027dbc" stroke-width="7"/>
<text x="1750.5" y="322.8">1544.9 nm</text>
<path d="M1596 372.1H1740" stroke="#00cdcd" stroke-width="7"/>
<text x="1750.5" y="392.4">1550.0 nm</text>
<path d="M1596 441.7H1740" stroke="#ff80c0" stroke-width="7"/>
<text x="1750.5" y="462.0">1555.9 nm</text>
<path d="M1596 511.3H1740" stroke="#bd5922" stroke-width="7"/>
<text x="1750.5" y="531.6">1562.6 nm</text>
<path d="M1596 580.9H1740" stroke="#ffff00" stroke-width="7"/>
<text x="1750.5" y="601.2">1568.0 nm</text>
<path d="M1596 650.5H1740" stroke="#ff8000" stroke-width="7"/>
<text x="1750.5" y="670.8">1576.4 nm</text>
<path d="M1596 720.1H1740" stroke="#a550ac" stroke-width="7"/>
<text x="1750.5" y="740.4">1583.9 nm</text>
<path d="M1596 789.7H1740" stroke="#00ab3f" stroke-width="7"/>
<text x="1750.5" y="810.0">1591.6 nm</text>
<path d="M1596 859.3H1740" stroke="#ff1414" stroke-width="7"/>
<text x="1750.5" y="879.6">1599.4 nm</text>
<path d="M1596 928.9H1740" stroke="#0000ff" stroke-width="7"/>
<text x="1750.5" y="949.2">1609.1 nm</text>
</g>
</svg></body></html>
